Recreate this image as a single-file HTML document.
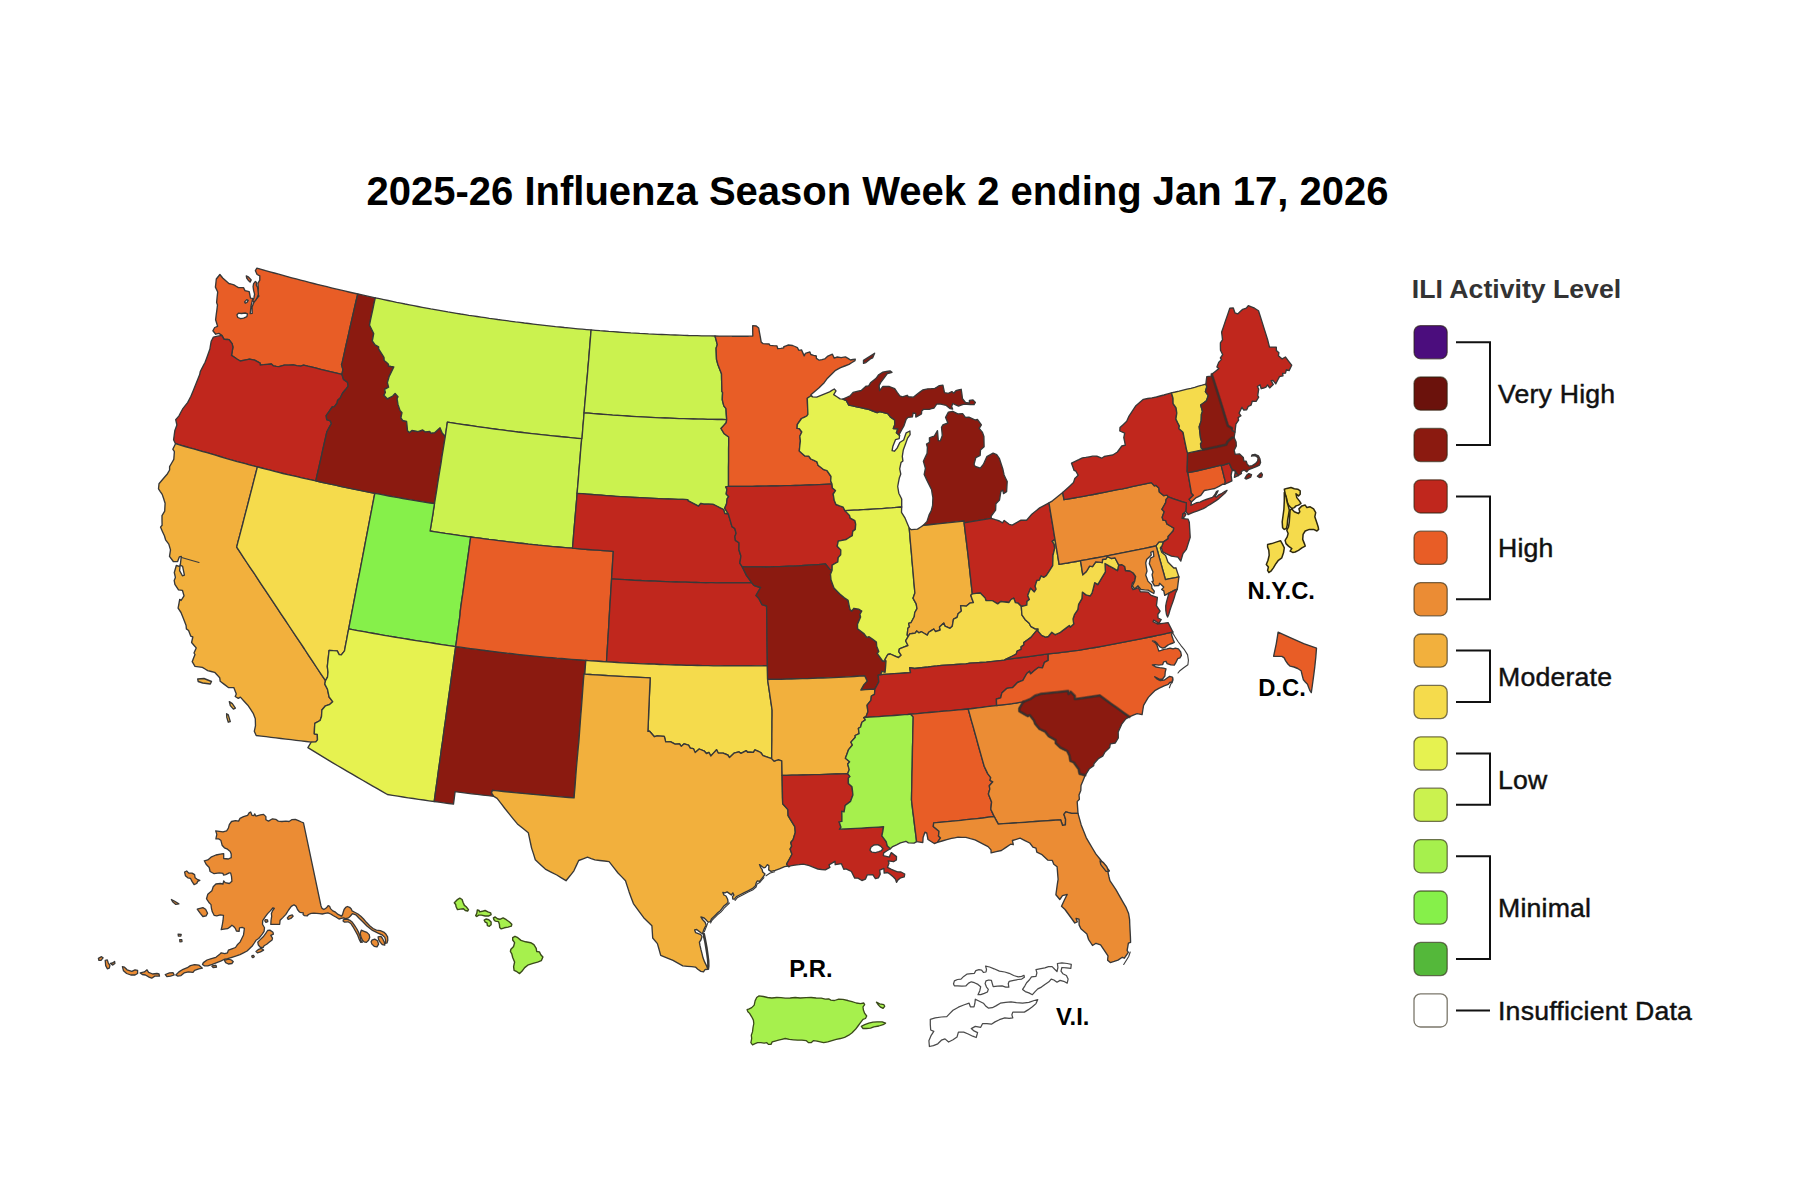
<!DOCTYPE html>
<html lang="en"><head><meta charset="utf-8"><title>ILI Activity Level Map</title>
<style>
html,body{margin:0;padding:0;background:#fff;}
body{width:1793px;height:1195px;position:relative;overflow:hidden;font-family:"Liberation Sans",Arial,sans-serif;}
#map{position:absolute;left:0;top:0;}
.s{stroke:#383838;stroke-width:1.35;stroke-linejoin:round;}
.s.vi{stroke:#4a4a4a;stroke-width:1.25;}
.soft{fill:none;stroke:#3a2a26;stroke-opacity:.5;stroke-width:3;stroke-linecap:round;stroke-linejoin:round;}
.s.nyc{stroke:#2f2a10;stroke-width:1.5;}
.s.hi{stroke:#3a4a1a;stroke-width:1.4;}
.s.pr{stroke:#3a4a1a;stroke-width:1.3;}
.s.ak{stroke:#383838;stroke-width:1.3;}
text{font-family:"Liberation Sans",Arial,sans-serif;}
.title{font-size:40px;font-weight:bold;fill:#000;}
.lt{font-size:26.67px;font-weight:bold;fill:#333;}
.ll{font-size:26.67px;fill:#111;stroke:#111;stroke-width:.45px;letter-spacing:.2px;}
.lab{font-size:23.8px;font-weight:bold;fill:#000;}
.sw{stroke:#2a2410;stroke-opacity:.62;stroke-width:1.3;}
.br{fill:none;stroke:#111;stroke-width:2;}
.dl{fill:none;stroke:#3b3b3b;stroke-width:1.1;stroke-linejoin:round;stroke-linecap:round;}
</style></head><body>
<svg id="map" width="1793" height="1195" viewBox="0 0 1793 1195">
<g id="states">
<path class="s st-WA" fill="#E85D26" d="M356.2 300.5L357.8 294.0L353.3 293.0L348.9 292.0L344.5 290.9L340.1 289.9L335.7 288.9L331.3 287.8L326.9 286.7L322.5 285.6L318.1 284.6L313.7 283.5L309.3 282.3L304.9 281.2L300.6 280.1L296.2 278.9L291.8 277.8L287.4 276.6L283.1 275.4L278.7 274.2L274.3 273.0L270.0 271.8L265.6 270.6L261.3 269.3L256.9 268.1L255.4 270.7L257.1 274.5L259.8 275.8L259.8 280.2L257.9 283.3L258.3 288.5L257.3 292.9L258.9 296.0L254.3 301.2L252.1 306.9L252.2 313.4L250.2 313.6L250.6 309.9L251.0 306.2L251.9 302.3L252.8 298.4L250.5 298.2L249.2 291.7L245.0 290.6L243.5 287.6L240.9 287.6L238.4 287.6L236.2 286.2L233.9 284.8L231.4 284.1L228.9 283.5L225.8 280.7L222.7 278.0L219.9 274.5L216.3 279.0L215.9 283.0L215.4 287.1L217.7 292.0L217.1 297.3L216.6 302.6L217.5 304.9L216.9 309.8L216.2 314.8L215.6 319.8L217.6 326.3L214.7 327.5L212.9 330.8L215.7 334.2L218.9 333.4L221.8 335.4L224.1 339.4L227.3 339.5L229.0 339.7L232.1 343.6L232.9 347.2L232.2 351.3L231.5 355.4L234.4 357.3L237.3 359.2L240.2 361.0L244.8 360.1L249.5 359.1L252.0 359.6L254.6 360.1L257.4 361.6L260.1 363.1L260.2 365.0L263.9 364.7L267.7 364.3L271.4 364.0L273.5 365.9L276.3 366.3L279.1 366.6L284.4 365.2L288.7 365.1L293.1 364.9L296.8 365.6L300.6 366.2L303.6 365.1L307.8 366.2L312.1 367.2L316.3 368.2L320.6 369.3L324.9 370.3L329.1 371.3L333.4 372.3L337.7 373.3L341.9 374.3L342.9 369.6L341.5 364.4L342.3 362.2L343.6 356.3L344.9 350.4L346.2 344.4L347.6 338.5L348.9 332.6L350.2 326.7L351.7 320.1L353.2 313.6L354.7 307.0Z"/>
<path class="s st-OR" fill="#C0271D" d="M341.9 374.3L337.7 373.3L333.4 372.3L329.1 371.3L324.9 370.3L320.6 369.3L316.3 368.2L312.1 367.2L307.8 366.2L303.6 365.1L300.6 366.2L296.8 365.6L293.1 364.9L288.7 365.1L284.4 365.2L279.1 366.6L276.3 366.3L273.5 365.9L271.4 364.0L267.7 364.3L263.9 364.7L260.2 365.0L260.1 363.1L257.4 361.6L254.6 360.1L252.0 359.6L249.5 359.1L244.8 360.1L240.2 361.0L237.3 359.2L234.4 357.3L231.5 355.4L232.2 351.3L232.9 347.2L232.1 343.6L229.0 339.7L227.3 339.5L224.1 339.4L221.8 335.4L217.6 336.2L213.4 337.1L211.2 341.3L210.5 345.1L209.9 349.0L208.3 353.4L206.7 357.9L205.1 362.3L202.7 366.9L200.3 371.5L199.7 374.6L197.5 380.1L195.3 385.5L193.1 390.9L190.9 396.3L189.2 399.5L187.6 402.6L185.0 405.9L182.5 409.2L180.7 412.5L179.0 415.9L175.7 419.6L176.9 425.0L174.8 430.8L174.2 435.3L173.6 439.8L175.5 443.7L180.2 445.1L185.0 446.5L189.7 447.9L194.5 449.2L198.6 450.4L202.8 451.6L206.9 452.7L211.1 453.9L215.4 455.2L219.8 456.5L224.1 457.8L228.4 459.1L232.8 460.3L237.1 461.6L241.2 462.7L245.2 463.7L249.3 464.8L253.3 465.9L257.4 466.9L261.6 468.0L265.8 469.1L270.1 470.2L274.4 471.3L278.6 472.4L282.9 473.5L287.6 474.6L292.3 475.7L297.0 476.7L301.7 477.8L306.4 478.8L311.1 479.9L315.8 480.9L317.2 474.7L318.6 468.6L320.0 462.4L321.4 456.3L322.7 450.1L324.1 444.0L325.5 437.9L326.9 431.7L329.1 427.6L331.4 423.5L330.3 420.9L326.7 419.6L326.2 415.7L329.2 411.3L332.2 407.0L334.4 406.6L337.2 403.0L337.5 400.5L340.4 397.7L342.5 393.3L345.4 389.8L348.2 386.2L347.5 382.3L343.5 379.4Z"/>
<path class="s st-CA" fill="#F2B03D" d="M257.4 466.9L253.3 465.9L249.3 464.8L245.2 463.7L241.2 462.7L237.1 461.6L232.8 460.3L228.4 459.1L224.1 457.8L219.8 456.5L215.4 455.2L211.1 453.9L206.9 452.7L202.8 451.6L198.6 450.4L194.5 449.2L189.7 447.9L185.0 446.5L180.2 445.1L175.5 443.7L172.8 449.2L174.4 451.6L174.1 455.4L173.8 459.3L171.7 463.0L169.6 466.7L169.6 470.0L167.5 473.7L163.2 478.7L159.0 483.7L158.5 488.8L160.3 491.6L162.2 494.4L163.7 498.8L165.1 503.2L164.9 507.1L164.7 511.1L162.0 515.7L162.0 520.5L162.1 525.3L160.5 527.1L162.4 531.4L164.4 535.7L165.6 539.8L168.8 544.1L170.5 549.9L169.5 556.4L173.3 561.5L177.6 561.6L179.3 556.9L181.3 556.4L180.7 561.5L180.1 566.6L176.3 565.5L175.3 569.0L174.3 572.5L175.4 577.4L174.2 580.5L174.9 584.3L178.5 589.9L182.4 590.3L184.0 595.8L181.1 600.5L179.7 599.4L178.9 603.8L178.1 608.2L181.0 612.5L183.6 619.1L186.1 625.6L186.4 628.9L188.6 630.5L190.8 636.2L192.8 637.0L191.6 642.5L193.9 645.2L196.2 647.9L194.0 653.0L195.0 654.5L193.6 658.1L192.2 661.7L195.0 666.3L198.7 666.8L202.4 667.4L205.1 669.0L207.7 670.6L211.2 671.5L214.6 672.3L217.2 675.0L219.7 677.7L220.2 681.3L224.3 684.4L228.4 687.5L233.8 687.6L236.3 694.0L235.2 696.5L238.3 698.3L240.4 697.1L244.1 701.2L247.8 705.2L250.5 709.2L253.2 713.3L255.3 718.7L255.5 725.7L254.3 731.3L256.2 735.5L261.2 736.1L266.1 736.7L271.1 737.3L276.0 737.9L280.9 738.5L286.0 739.1L291.0 739.7L296.1 740.3L301.1 740.9L306.2 741.5L311.2 742.1L315.8 741.9L317.5 739.8L317.3 734.5L314.3 733.8L314.5 728.6L314.8 723.4L320.1 720.5L321.5 716.6L321.9 710.0L325.5 705.8L329.3 704.7L332.7 701.7L329.1 697.0L328.3 693.1L327.5 689.3L324.8 684.1L325.5 680.7L321.2 674.4L317.0 668.0L312.8 661.7L308.6 655.4L304.5 649.0L300.6 643.2L296.7 637.3L292.8 631.5L288.8 625.5L284.8 619.5L280.8 613.6L276.9 607.6L272.9 601.6L268.9 595.7L264.9 589.7L261.0 583.8L257.1 577.8L253.7 572.7L250.2 567.6L246.8 562.5L243.4 557.3L240.0 552.2L236.7 547.1L238.1 541.4L239.6 535.8L241.1 530.1L242.6 524.5L244.0 518.9L245.5 513.2L247.2 506.6L248.9 500.0L250.6 493.4L252.3 486.8L254.0 480.1L255.7 473.5Z"/>
<path class="s st-NV" fill="#F5DB4C" d="M315.8 480.9L311.1 479.9L306.4 478.8L301.7 477.8L297.0 476.7L292.3 475.7L287.6 474.6L282.9 473.5L278.6 472.4L274.4 471.3L270.1 470.2L265.8 469.1L261.6 468.0L257.4 466.9L255.7 473.5L254.0 480.1L252.3 486.8L250.6 493.4L248.9 500.0L247.2 506.6L245.5 513.2L244.0 518.9L242.6 524.5L241.1 530.1L239.6 535.8L238.1 541.4L236.7 547.1L240.0 552.2L243.4 557.3L246.8 562.5L250.2 567.6L253.7 572.7L257.1 577.8L261.0 583.8L264.9 589.7L268.9 595.7L272.9 601.6L276.9 607.6L280.8 613.6L284.8 619.5L288.8 625.5L292.8 631.5L296.7 637.3L300.6 643.2L304.5 649.0L308.6 655.4L312.8 661.7L317.0 668.0L321.2 674.4L325.5 680.7L327.5 677.2L328.0 672.1L327.3 666.5L327.9 661.2L328.5 655.8L329.1 650.4L333.2 650.7L337.2 650.9L339.2 654.7L341.3 654.9L344.5 650.8L345.5 645.3L346.6 639.8L347.6 634.4L348.7 628.9L350.0 622.1L351.3 615.3L352.6 608.6L353.9 601.8L355.2 595.0L356.5 588.2L357.8 581.4L359.2 574.6L360.5 567.9L361.8 561.1L363.1 554.3L364.4 547.5L365.7 540.7L367.0 534.0L368.3 527.2L369.6 520.4L370.9 513.6L372.2 506.9L373.5 500.1L374.8 493.3L369.9 492.4L365.0 491.4L360.1 490.4L355.1 489.4L350.2 488.4L345.3 487.3L340.4 486.3L335.5 485.2L330.5 484.2L325.6 483.1L320.7 482.0Z"/>
<path class="s st-ID" fill="#8B1A10" d="M357.8 294.0L356.2 300.5L354.7 307.0L353.2 313.6L351.7 320.1L350.2 326.7L348.9 332.6L347.6 338.5L346.2 344.4L344.9 350.4L343.6 356.3L342.3 362.2L341.5 364.4L342.9 369.6L341.9 374.3L343.5 379.4L347.5 382.3L348.2 386.2L345.4 389.8L342.5 393.3L340.4 397.7L337.5 400.5L337.2 403.0L334.4 406.6L332.2 407.0L329.2 411.3L326.2 415.7L326.7 419.6L330.3 420.9L331.4 423.5L329.1 427.6L326.9 431.7L325.5 437.9L324.1 444.0L322.7 450.1L321.4 456.3L320.0 462.4L318.6 468.6L317.2 474.7L315.8 480.9L320.7 482.0L325.6 483.1L330.5 484.2L335.5 485.2L340.4 486.3L345.3 487.3L350.2 488.4L355.1 489.4L360.1 490.4L365.0 491.4L369.9 492.4L374.8 493.3L379.5 494.2L384.2 495.1L388.8 496.0L393.5 496.8L398.2 497.7L402.9 498.5L407.5 499.3L412.2 500.1L416.7 500.9L421.1 501.6L425.6 502.3L430.0 503.0L434.5 503.7L435.6 496.9L436.7 490.2L437.7 483.5L438.8 476.7L439.9 470.0L441.0 463.3L442.0 456.5L443.1 449.8L444.2 443.1L445.3 436.4L442.2 433.0L440.0 427.8L434.6 432.7L430.6 433.1L429.9 431.4L425.1 431.8L422.7 430.0L417.9 431.6L414.9 431.0L411.9 430.4L409.5 432.6L407.5 430.7L407.1 426.1L406.6 421.5L402.7 420.5L400.9 417.9L402.0 412.7L400.0 410.4L398.0 404.4L397.1 398.8L398.0 396.7L395.1 393.4L392.7 396.0L387.3 398.8L383.9 395.2L385.4 392.4L384.6 389.4L388.6 387.1L387.4 382.6L389.2 376.4L391.5 371.7L393.8 366.9L391.1 366.5L388.4 366.0L388.5 364.2L386.4 362.3L384.2 360.5L384.0 357.4L381.3 353.1L378.6 348.8L378.6 346.8L375.1 344.9L372.3 340.9L373.0 337.3L373.7 333.6L371.6 329.3L369.5 325.0L370.6 319.5L371.8 314.1L373.0 308.7L374.1 303.2L375.3 297.8L370.9 296.9L366.5 295.9L362.1 294.9Z"/>
<path class="s st-MT" fill="#CBF24F" d="M375.3 297.8L374.1 303.2L373.0 308.7L371.8 314.1L370.6 319.5L369.5 325.0L371.6 329.3L373.7 333.6L373.0 337.3L372.3 340.9L375.1 344.9L378.6 346.8L378.6 348.8L381.3 353.1L384.0 357.4L384.2 360.5L386.4 362.3L388.5 364.2L388.4 366.0L391.1 366.5L393.8 366.9L391.5 371.7L389.2 376.4L387.4 382.6L388.6 387.1L384.6 389.4L385.4 392.4L383.9 395.2L387.3 398.8L392.7 396.0L395.1 393.4L398.0 396.7L397.1 398.8L398.0 404.4L400.0 410.4L402.0 412.7L400.9 417.9L402.7 420.5L406.6 421.5L407.1 426.1L407.5 430.7L409.5 432.6L411.9 430.4L414.9 431.0L417.9 431.6L422.7 430.0L425.1 431.8L429.9 431.4L430.6 433.1L434.6 432.7L440.0 427.8L442.2 433.0L445.3 436.4L446.0 431.6L446.7 426.9L447.4 422.1L452.1 422.9L456.8 423.6L461.6 424.3L466.3 425.0L471.0 425.7L475.7 426.4L480.4 427.1L485.1 427.7L489.8 428.4L494.5 429.0L499.2 429.6L503.8 430.2L508.5 430.8L513.2 431.4L517.8 432.0L522.5 432.5L527.2 433.1L531.9 433.6L536.6 434.1L541.2 434.6L545.9 435.1L550.4 435.6L554.9 436.1L559.3 436.5L563.8 437.0L568.3 437.4L572.7 437.8L577.2 438.3L581.7 438.7L582.0 438.7L582.5 432.2L583.0 425.7L583.6 419.3L584.1 412.8L584.6 406.3L585.2 399.8L585.8 393.3L586.3 386.7L586.9 380.2L587.5 373.7L588.0 367.2L588.6 360.7L589.1 354.6L589.6 348.4L590.1 342.2L590.6 336.1L591.1 329.9L586.7 329.6L582.2 329.2L577.8 328.8L573.3 328.3L568.8 327.9L564.4 327.5L560.0 327.0L555.5 326.6L551.1 326.1L546.6 325.6L542.2 325.1L537.7 324.6L533.3 324.1L528.8 323.5L524.4 323.0L520.0 322.4L515.5 321.9L511.1 321.3L506.7 320.7L502.2 320.1L497.8 319.5L493.4 318.8L489.3 318.3L485.2 317.7L481.1 317.1L477.0 316.5L472.9 315.9L468.8 315.3L464.7 314.6L460.6 314.0L456.5 313.3L452.2 312.6L447.9 311.9L443.6 311.1L439.4 310.4L435.1 309.6L430.8 308.9L426.5 308.1L422.2 307.3L417.9 306.5L413.7 305.7L409.4 304.8L405.1 304.0L400.9 303.1L396.6 302.3L392.3 301.4L388.1 300.5L383.8 299.6L379.5 298.7Z"/>
<path class="s st-WY" fill="#CBF24F" d="M445.3 436.4L444.2 443.1L443.1 449.8L442.0 456.5L441.0 463.3L439.9 470.0L438.8 476.7L437.7 483.5L436.7 490.2L435.6 496.9L434.5 503.7L433.6 509.1L432.8 514.6L431.9 520.1L431.0 525.5L430.1 531.0L435.2 531.8L440.3 532.6L445.3 533.4L450.4 534.1L455.5 534.9L460.5 535.6L465.6 536.3L470.7 537.0L475.3 537.6L479.9 538.2L484.5 538.8L489.0 539.4L493.6 539.9L498.6 540.6L503.5 541.2L508.5 541.8L513.5 542.4L518.4 543.0L523.4 543.5L528.3 544.1L533.3 544.6L538.2 545.2L543.1 545.6L548.0 546.1L552.9 546.6L557.8 547.0L562.7 547.4L567.6 547.8L572.5 548.2L573.1 541.4L573.6 534.5L574.2 527.6L574.8 520.7L575.4 513.9L576.0 507.0L576.6 500.1L577.1 493.3L577.7 486.4L578.3 479.6L578.8 472.8L579.4 465.9L580.0 459.1L580.5 452.3L581.1 445.5L581.7 438.7L577.2 438.3L572.7 437.8L568.3 437.4L563.8 437.0L559.3 436.5L554.9 436.1L550.4 435.6L545.9 435.1L541.2 434.6L536.6 434.1L531.9 433.6L527.2 433.1L522.5 432.5L517.8 432.0L513.2 431.4L508.5 430.8L503.8 430.2L499.2 429.6L494.5 429.0L489.8 428.4L485.1 427.7L480.4 427.1L475.7 426.4L471.0 425.7L466.3 425.0L461.6 424.3L456.8 423.6L452.1 422.9L447.4 422.1L446.7 426.9L446.0 431.6Z"/>
<path class="s st-UT" fill="#86F04A" d="M374.8 493.3L373.5 500.1L372.2 506.9L370.9 513.6L369.6 520.4L368.3 527.2L367.0 534.0L365.7 540.7L364.4 547.5L363.1 554.3L361.8 561.1L360.5 567.9L359.2 574.6L357.8 581.4L356.5 588.2L355.2 595.0L353.9 601.8L352.6 608.6L351.3 615.3L350.0 622.1L348.7 628.9L353.7 629.9L358.8 630.8L363.8 631.7L368.8 632.6L373.9 633.5L378.9 634.4L384.0 635.3L389.0 636.2L394.1 637.0L399.2 637.9L404.2 638.7L409.3 639.5L414.3 640.3L419.4 641.1L424.5 641.9L429.7 642.7L434.9 643.5L440.1 644.3L445.3 645.1L450.5 645.8L455.7 646.6L456.6 640.2L457.4 633.8L458.3 627.4L459.2 621.0L460.1 614.6L460.2 611.6L461.0 605.7L461.8 599.9L462.7 594.1L463.5 588.3L464.4 581.9L465.3 575.5L466.2 569.1L467.1 562.7L468.0 556.3L468.9 549.9L469.8 543.4L470.7 537.0L465.6 536.3L460.5 535.6L455.5 534.9L450.4 534.1L445.3 533.4L440.3 532.6L435.2 531.8L430.1 531.0L431.0 525.5L431.9 520.1L432.8 514.6L433.6 509.1L434.5 503.7L430.0 503.0L425.6 502.3L421.1 501.6L416.7 500.9L412.2 500.1L407.5 499.3L402.9 498.5L398.2 497.7L393.5 496.8L388.8 496.0L384.2 495.1L379.5 494.2Z"/>
<path class="s st-AZ" fill="#E6F250" d="M325.5 680.7L324.8 684.1L327.5 689.3L328.3 693.1L329.1 697.0L332.7 701.7L329.3 704.7L325.5 705.8L321.9 710.0L321.5 716.6L320.1 720.5L314.8 723.4L314.5 728.6L314.3 733.8L317.3 734.5L317.5 739.8L315.8 741.9L311.2 742.1L307.9 747.7L312.8 750.7L317.7 753.7L322.6 756.7L327.5 759.6L332.4 762.6L337.3 765.5L342.3 768.4L347.3 771.3L352.2 774.2L357.2 777.1L362.2 780.0L367.2 782.9L372.3 785.8L377.3 788.7L382.4 791.6L387.4 794.5L392.6 795.4L397.8 796.2L403.0 797.0L408.2 797.8L413.4 798.5L418.6 799.3L423.8 800.0L429.0 800.8L434.2 801.5L435.1 794.8L436.0 788.1L437.0 781.4L437.9 774.6L438.8 767.9L439.8 761.2L440.7 754.5L441.6 747.7L442.6 741.0L443.5 734.3L444.4 727.5L445.4 720.8L446.3 714.0L447.2 707.3L448.2 700.6L449.1 693.8L450.1 687.1L451.0 680.3L451.9 673.6L452.9 666.8L453.8 660.1L454.7 653.3L455.7 646.6L450.5 645.8L445.3 645.1L440.1 644.3L434.9 643.5L429.7 642.7L424.5 641.9L419.4 641.1L414.3 640.3L409.3 639.5L404.2 638.7L399.2 637.9L394.1 637.0L389.0 636.2L384.0 635.3L378.9 634.4L373.9 633.5L368.8 632.6L363.8 631.7L358.8 630.8L353.7 629.9L348.7 628.9L347.6 634.4L346.6 639.8L345.5 645.3L344.5 650.8L341.3 654.9L339.2 654.7L337.2 650.9L333.2 650.7L329.1 650.4L328.5 655.8L327.9 661.2L327.3 666.5L328.0 672.1L327.5 677.2Z"/>
<path class="s st-NM" fill="#8B1A10" d="M455.7 646.6L454.7 653.3L453.8 660.1L452.9 666.8L451.9 673.6L451.0 680.3L450.1 687.1L449.1 693.8L448.2 700.6L447.2 707.3L446.3 714.0L445.4 720.8L444.4 727.5L443.5 734.3L442.6 741.0L441.6 747.7L440.7 754.5L439.8 761.2L438.8 767.9L437.9 774.6L437.0 781.4L436.0 788.1L435.1 794.8L434.2 801.5L439.0 802.2L443.8 802.8L448.7 803.5L453.5 804.1L454.3 797.9L455.1 791.7L460.6 792.4L466.2 793.1L471.7 793.8L477.2 794.4L482.7 795.1L488.3 795.7L493.8 796.3L491.5 792.9L492.5 790.3L497.9 790.9L503.3 791.5L508.8 792.0L514.2 792.6L519.6 793.2L525.1 793.7L530.5 794.2L536.0 794.7L541.4 795.2L546.9 795.7L552.3 796.2L557.8 796.6L563.2 797.1L568.7 797.5L574.1 797.9L574.5 792.4L575.0 786.9L575.4 781.4L575.8 775.9L576.2 770.4L576.7 764.8L577.2 759.2L577.7 753.7L578.2 748.1L578.8 742.5L579.3 735.7L579.8 728.8L580.3 722.0L580.8 715.1L581.4 708.3L581.9 701.4L582.4 694.6L582.9 687.7L583.4 680.9L584.0 674.0L584.8 674.1L585.3 667.2L585.8 660.3L581.0 660.0L576.2 659.7L571.4 659.3L566.6 658.9L561.8 658.5L556.9 658.2L552.0 657.7L547.0 657.3L542.1 656.8L537.1 656.3L532.1 655.8L527.2 655.3L522.2 654.8L517.3 654.3L512.3 653.7L507.3 653.2L502.4 652.6L498.4 652.1L494.5 651.6L490.5 651.1L485.5 650.5L480.6 649.8L475.6 649.2L470.6 648.6L465.6 647.9L460.6 647.2Z"/>
<path class="s st-CO" fill="#E85D26" d="M572.5 548.2L567.6 547.8L562.7 547.4L557.8 547.0L552.9 546.6L548.0 546.1L543.1 545.6L538.2 545.2L533.3 544.6L528.3 544.1L523.4 543.5L518.4 543.0L513.5 542.4L508.5 541.8L503.5 541.2L498.6 540.6L493.6 539.9L489.0 539.4L484.5 538.8L479.9 538.2L475.3 537.6L470.7 537.0L469.8 543.4L468.9 549.9L468.0 556.3L467.1 562.7L466.2 569.1L465.3 575.5L464.4 581.9L463.5 588.3L462.7 594.1L461.8 599.9L461.0 605.7L460.2 611.6L460.1 614.6L459.2 621.0L458.3 627.4L457.4 633.8L456.6 640.2L455.7 646.6L460.6 647.2L465.6 647.9L470.6 648.6L475.6 649.2L480.6 649.8L485.5 650.5L490.5 651.1L494.5 651.6L498.4 652.1L502.4 652.6L507.3 653.2L512.3 653.7L517.3 654.3L522.2 654.8L527.2 655.3L532.1 655.8L537.1 656.3L542.1 656.8L547.0 657.3L552.0 657.7L556.9 658.2L561.8 658.5L566.6 658.9L571.4 659.3L576.2 659.7L581.0 660.0L585.8 660.3L591.0 660.8L596.2 661.2L601.3 661.5L606.5 661.9L606.9 655.5L607.3 649.1L607.7 642.8L608.1 636.4L608.5 630.0L608.9 623.6L609.2 617.2L609.6 610.8L610.0 604.4L610.4 598.1L610.8 591.7L611.2 585.3L611.6 578.9L611.9 573.4L612.3 567.9L612.6 562.3L613.0 556.8L613.3 551.3L608.2 550.9L603.1 550.6L598.0 550.2L592.9 549.9L587.8 549.5L582.7 549.1L577.6 548.7Z"/>
<path class="s st-ND" fill="#CBF24F" d="M591.1 329.9L590.6 336.1L590.1 342.2L589.6 348.4L589.1 354.6L588.6 360.7L588.0 367.2L587.5 373.7L586.9 380.2L586.3 386.7L585.8 393.3L585.2 399.8L584.6 406.3L584.1 412.8L588.8 413.2L593.6 413.6L598.3 414.0L603.1 414.4L607.8 414.7L612.5 415.1L617.3 415.4L622.0 415.7L626.8 416.0L631.5 416.3L636.3 416.6L641.0 416.9L645.8 417.1L650.6 417.4L655.3 417.6L660.1 417.8L664.8 418.0L669.6 418.2L674.3 418.4L679.1 418.6L683.8 418.7L688.6 418.9L693.4 419.0L698.1 419.1L702.9 419.2L707.6 419.3L712.4 419.4L717.2 419.5L721.9 419.5L726.7 419.6L726.3 414.1L726.0 408.6L723.8 405.8L722.3 399.8L722.4 396.1L722.6 392.5L721.9 391.3L721.8 385.4L721.6 379.6L721.5 373.8L719.7 369.2L717.9 364.5L716.5 359.3L716.3 353.8L716.1 348.3L717.3 344.6L716.2 340.3L715.0 336.0L710.6 335.9L706.2 335.9L701.7 335.8L697.3 335.7L692.9 335.6L688.4 335.5L684.0 335.3L679.6 335.2L675.1 335.0L670.7 334.9L666.3 334.7L661.9 334.5L657.4 334.3L653.0 334.1L648.6 333.9L644.2 333.6L639.7 333.4L635.3 333.1L630.9 332.9L626.5 332.6L622.0 332.3L617.6 332.0L613.2 331.7L608.8 331.4L604.4 331.0L599.9 330.7L595.5 330.3Z"/>
<path class="s st-SD" fill="#CBF24F" d="M584.1 412.8L583.6 419.3L583.0 425.7L582.5 432.2L582.0 438.7L581.7 438.7L581.1 445.5L580.5 452.3L580.0 459.1L579.4 465.9L578.8 472.8L578.3 479.6L577.7 486.4L577.1 493.3L582.0 493.7L586.8 494.1L591.6 494.5L596.4 494.8L601.2 495.2L606.1 495.6L610.9 495.9L615.7 496.3L620.5 496.6L625.3 496.9L630.1 497.2L634.9 497.5L639.7 497.7L644.5 497.9L649.3 498.2L654.1 498.4L658.8 498.6L663.6 498.8L668.4 499.0L673.2 499.1L678.0 499.3L682.8 499.4L687.6 499.6L688.2 500.9L691.6 502.7L695.0 504.4L698.4 506.2L700.8 503.5L703.7 504.2L708.4 504.2L713.1 504.3L716.5 506.0L720.0 507.8L723.5 509.5L724.8 513.5L728.4 514.2L724.7 508.2L726.5 504.1L727.2 498.7L728.7 496.7L726.2 494.0L726.9 489.2L725.8 486.9L728.5 486.3L728.5 480.2L728.5 474.0L728.5 467.8L728.6 461.6L728.6 455.5L728.6 449.3L728.7 443.1L728.7 437.0L724.3 433.8L721.0 428.5L723.6 425.6L726.2 422.7L726.7 419.6L721.9 419.5L717.2 419.5L712.4 419.4L707.6 419.3L702.9 419.2L698.1 419.1L693.4 419.0L688.6 418.9L683.8 418.7L679.1 418.6L674.3 418.4L669.6 418.2L664.8 418.0L660.1 417.8L655.3 417.6L650.6 417.4L645.8 417.1L641.0 416.9L636.3 416.6L631.5 416.3L626.8 416.0L622.0 415.7L617.3 415.4L612.5 415.1L607.8 414.7L603.1 414.4L598.3 414.0L593.6 413.6L588.8 413.2Z"/>
<path class="s st-NE" fill="#C0271D" d="M577.1 493.3L576.6 500.1L576.0 507.0L575.4 513.9L574.8 520.7L574.2 527.6L573.6 534.5L573.1 541.4L572.5 548.2L577.6 548.7L582.7 549.1L587.8 549.5L592.9 549.9L598.0 550.2L603.1 550.6L608.2 550.9L613.3 551.3L613.0 556.8L612.6 562.3L612.3 567.9L611.9 573.4L611.6 578.9L614.6 579.1L619.7 579.4L624.8 579.7L629.9 580.0L634.9 580.3L640.0 580.5L645.1 580.8L650.2 581.0L655.3 581.2L660.3 581.4L665.4 581.6L670.5 581.8L675.6 582.0L680.6 582.1L685.7 582.2L690.8 582.4L695.9 582.5L701.0 582.6L706.1 582.7L711.1 582.7L716.2 582.8L721.3 582.9L726.4 582.9L731.5 582.9L736.5 582.9L741.6 582.9L746.7 582.9L751.8 582.9L749.2 579.2L746.6 575.6L744.4 571.2L742.2 566.7L739.8 563.1L740.4 559.5L740.9 556.0L738.9 549.8L739.0 546.3L739.0 542.8L735.4 540.4L734.9 536.6L736.1 533.3L734.8 528.5L732.0 526.6L730.2 520.4L728.4 514.2L724.8 513.5L723.5 509.5L720.0 507.8L716.5 506.0L713.1 504.3L708.4 504.2L703.7 504.2L700.8 503.5L698.4 506.2L695.0 504.4L691.6 502.7L688.2 500.9L687.6 499.6L682.8 499.4L678.0 499.3L673.2 499.1L668.4 499.0L663.6 498.8L658.8 498.6L654.1 498.4L649.3 498.2L644.5 497.9L639.7 497.7L634.9 497.5L630.1 497.2L625.3 496.9L620.5 496.6L615.7 496.3L610.9 495.9L606.1 495.6L601.2 495.2L596.4 494.8L591.6 494.5L586.8 494.1L582.0 493.7Z"/>
<path class="s st-KS" fill="#C0271D" d="M611.6 578.9L611.2 585.3L610.8 591.7L610.4 598.1L610.0 604.4L609.6 610.8L609.2 617.2L608.9 623.6L608.5 630.0L608.1 636.4L607.7 642.8L607.3 649.1L606.9 655.5L606.5 661.9L611.8 662.2L617.1 662.5L622.4 662.8L627.7 663.1L633.0 663.3L638.3 663.6L643.5 663.8L648.8 664.0L654.2 664.2L659.6 664.5L665.0 664.7L670.4 664.8L675.8 665.0L681.1 665.2L686.5 665.3L691.9 665.4L697.3 665.5L702.7 665.6L708.1 665.7L713.5 665.8L718.9 665.8L724.2 665.9L729.6 665.9L735.0 665.9L740.4 665.9L745.8 665.9L751.2 665.9L756.6 665.8L762.0 665.8L767.4 665.7L767.3 659.1L767.2 652.4L767.1 645.8L767.0 639.2L766.9 632.5L766.9 625.9L766.8 619.3L766.7 612.7L766.6 606.0L762.1 604.7L758.7 598.2L756.0 595.5L758.3 591.5L760.6 587.5L757.2 586.5L753.9 585.4L751.8 582.9L746.7 582.9L741.6 582.9L736.5 582.9L731.5 582.9L726.4 582.9L721.3 582.9L716.2 582.8L711.1 582.7L706.1 582.7L701.0 582.6L695.9 582.5L690.8 582.4L685.7 582.2L680.6 582.1L675.6 582.0L670.5 581.8L665.4 581.6L660.3 581.4L655.3 581.2L650.2 581.0L645.1 580.8L640.0 580.5L634.9 580.3L629.9 580.0L624.8 579.7L619.7 579.4L614.6 579.1Z"/>
<path class="s st-OK" fill="#F5DB4C" d="M585.8 660.3L585.3 667.2L584.8 674.1L590.0 674.5L595.1 674.8L600.3 675.2L605.5 675.5L610.7 675.8L615.6 676.1L620.5 676.4L625.5 676.7L630.4 676.9L635.3 677.2L640.3 677.4L645.2 677.7L650.2 677.9L649.9 684.6L649.6 691.3L649.3 698.0L649.0 704.6L648.7 711.3L648.5 718.0L648.2 724.7L647.9 731.4L649.6 731.2L654.4 736.7L657.2 735.9L660.7 736.1L664.3 736.4L665.7 741.8L670.3 741.6L675.1 744.2L679.6 744.0L681.3 746.3L684.2 743.8L688.5 745.1L690.3 748.2L693.5 748.7L695.2 752.5L699.2 749.0L704.5 751.2L706.4 753.5L709.0 752.5L710.8 756.0L713.7 752.9L716.6 749.8L718.2 753.0L723.1 753.1L727.8 755.0L729.5 757.5L734.0 753.2L738.8 751.9L741.0 753.4L746.3 750.7L747.6 752.2L750.5 752.2L753.4 752.3L754.9 749.9L757.8 751.2L760.7 752.5L763.0 755.7L767.3 757.1L771.7 758.6L771.7 752.5L771.8 746.4L771.9 740.4L771.9 734.3L772.0 728.2L772.0 722.2L772.1 716.1L772.1 710.0L771.2 703.9L770.3 697.8L769.4 691.7L768.5 685.6L767.6 679.5L767.5 672.6L767.4 665.7L762.0 665.8L756.6 665.8L751.2 665.9L745.8 665.9L740.4 665.9L735.0 665.9L729.6 665.9L724.2 665.9L718.9 665.8L713.5 665.8L708.1 665.7L702.7 665.6L697.3 665.5L691.9 665.4L686.5 665.3L681.1 665.2L675.8 665.0L670.4 664.8L665.0 664.7L659.6 664.5L654.2 664.2L648.8 664.0L643.5 663.8L638.3 663.6L633.0 663.3L627.7 663.1L622.4 662.8L617.1 662.5L611.8 662.2L606.5 661.9L601.3 661.5L596.2 661.2L591.0 660.8Z"/>
<path class="s st-TX" fill="#F2B03D" d="M584.0 674.0L583.4 680.9L582.9 687.7L582.4 694.6L581.9 701.4L581.4 708.3L580.8 715.1L580.3 722.0L579.8 728.8L579.3 735.7L578.8 742.5L578.2 748.1L577.7 753.7L577.2 759.2L576.7 764.8L576.2 770.4L575.8 775.9L575.4 781.4L575.0 786.9L574.5 792.4L574.1 797.9L568.7 797.5L563.2 797.1L557.8 796.6L552.3 796.2L546.9 795.7L541.4 795.2L536.0 794.7L530.5 794.2L525.1 793.7L519.6 793.2L514.2 792.6L508.8 792.0L503.3 791.5L497.9 790.9L492.5 790.3L491.5 792.9L493.8 796.3L497.1 798.3L501.0 803.4L504.9 808.5L509.0 813.6L513.2 818.8L517.4 823.9L522.8 828.3L528.3 832.7L529.4 837.8L530.5 843.0L531.6 848.1L533.5 853.9L535.3 859.7L540.3 864.4L545.3 869.1L551.0 872.1L556.8 875.0L561.4 877.9L566.0 880.7L570.0 875.8L573.9 870.8L576.3 865.6L578.7 860.5L583.1 858.8L587.5 857.2L591.2 858.6L594.9 859.9L599.7 860.5L604.4 861.0L609.1 861.6L613.6 867.3L618.0 873.0L621.8 876.9L625.5 880.8L627.3 886.4L629.1 891.9L631.2 897.8L633.4 903.6L638.5 910.7L643.7 917.7L647.8 921.7L651.9 925.7L652.3 931.8L652.7 938.0L657.4 943.6L659.1 949.5L660.7 955.4L666.8 957.9L673.0 960.4L677.9 963.1L682.8 965.8L687.3 966.3L691.8 966.7L695.2 967.1L695.7 967.2L697.8 969.3L700.9 971.4L703.5 971.9L705.1 969.5L708.0 969.3L707.4 968.0L706.2 965.1L704.6 961.9L703.0 957.8L702.0 953.6L700.9 949.4L699.9 945.2L699.4 942.1L700.9 940.0L702.0 936.8L700.9 934.7L698.3 933.7L695.7 932.7L694.6 930.0L696.7 929.5L698.8 931.1L700.9 932.7L702.5 933.7L703.5 930.6L704.6 927.9L706.2 925.3L705.1 922.2L702.5 919.6L700.9 917.0L704.1 918.0L706.7 920.6L708.2 922.2L710.3 921.7L711.4 919.1L713.5 917.0L715.6 914.9L717.7 912.8L720.3 910.7L721.9 908.6L723.9 906.0L726.0 904.4L728.1 902.3L727.6 899.2L726.0 896.0L723.9 895.0L722.9 892.4L725.0 892.9L727.1 891.9L729.2 893.4L731.3 895.0L732.8 892.9L733.9 895.0L732.5 896.6L732.8 899.0L734.4 899.2L736.5 896.6L739.6 895.0L743.8 892.9L748.0 890.8L752.2 888.7L755.3 886.1L756.4 882.4L757.4 880.9L759.5 881.4L761.6 878.8L763.7 876.2L765.0 873.9L762.7 872.0L762.1 869.4L760.6 867.3L759.5 864.6L761.1 865.7L763.7 867.8L765.3 867.3L767.4 864.6L768.9 865.7L768.7 869.9L771.0 871.4L775.2 870.4L779.4 868.8L784.6 866.7L788.1 866.0L786.6 864.2L789.3 859.3L792.0 854.3L790.1 849.1L791.7 846.2L790.8 842.5L793.1 839.6L794.2 836.0L795.3 832.4L794.8 826.6L791.4 821.1L788.1 815.6L787.9 809.6L782.7 803.7L782.5 798.0L782.4 792.4L782.3 786.7L782.2 781.1L782.1 775.4L782.0 770.6L781.9 765.7L781.8 760.8L778.5 759.7L774.1 761.1L771.7 758.6L767.3 757.1L763.0 755.7L760.7 752.5L757.8 751.2L754.9 749.9L753.4 752.3L750.5 752.2L747.6 752.2L746.3 750.7L741.0 753.4L738.8 751.9L734.0 753.2L729.5 757.5L727.8 755.0L723.1 753.1L718.2 753.0L716.6 749.8L713.7 752.9L710.8 756.0L709.0 752.5L706.4 753.5L704.5 751.2L699.2 749.0L695.2 752.5L693.5 748.7L690.3 748.2L688.5 745.1L684.2 743.8L681.3 746.3L679.6 744.0L675.1 744.2L670.3 741.6L665.7 741.8L664.3 736.4L660.7 736.1L657.2 735.9L654.4 736.7L649.6 731.2L647.9 731.4L648.2 724.7L648.5 718.0L648.7 711.3L649.0 704.6L649.3 698.0L649.6 691.3L649.9 684.6L650.2 677.9L645.2 677.7L640.3 677.4L635.3 677.2L630.4 676.9L625.5 676.7L620.5 676.4L615.6 676.1L610.7 675.8L605.5 675.5L600.3 675.2L595.1 674.8L590.0 674.5L584.8 674.1Z"/>
<path class="s st-MN" fill="#E85D26" d="M715.0 336.0L716.2 340.3L717.3 344.6L716.1 348.3L716.3 353.8L716.5 359.3L717.9 364.5L719.7 369.2L721.5 373.8L721.6 379.6L721.8 385.4L721.9 391.3L722.6 392.5L722.4 396.1L722.3 399.8L723.8 405.8L726.0 408.6L726.3 414.1L726.7 419.6L726.2 422.7L723.6 425.6L721.0 428.5L724.3 433.8L728.7 437.0L728.7 443.1L728.6 449.3L728.6 455.5L728.6 461.6L728.5 467.8L728.5 474.0L728.5 480.2L728.5 486.3L733.2 486.3L738.0 486.4L742.8 486.3L747.6 486.3L752.4 486.3L757.2 486.2L762.0 486.2L766.7 486.1L771.5 486.0L776.3 486.0L781.1 485.8L785.9 485.7L790.7 485.6L795.5 485.5L800.2 485.3L805.0 485.1L809.8 485.0L814.6 484.8L819.4 484.6L824.2 484.3L828.9 484.1L832.0 484.0L830.7 480.9L831.0 476.5L827.0 470.6L823.8 469.7L820.9 467.5L818.0 465.3L816.9 461.8L813.9 460.4L810.8 459.0L808.7 456.1L804.6 455.8L802.0 453.4L799.3 451.0L799.8 445.9L800.4 440.9L799.8 436.2L801.8 432.0L799.3 428.6L797.1 428.4L797.3 424.5L801.5 418.5L804.1 417.3L806.8 416.0L807.9 414.3L807.7 409.0L807.5 403.6L807.3 398.2L811.0 395.8L812.5 396.9L810.9 394.8L815.0 391.3L819.1 387.8L821.6 385.2L824.2 382.7L827.5 378.2L831.3 374.4L835.1 370.7L837.8 369.2L840.6 367.6L844.8 366.0L849.0 364.4L852.0 362.5L855.0 360.6L855.3 359.1L852.9 359.5L850.6 360.0L848.0 358.4L845.4 356.9L841.1 357.7L837.3 357.0L834.2 358.1L832.4 354.2L827.9 356.1L824.7 358.9L822.0 359.6L819.2 360.2L816.4 358.4L816.3 356.0L813.6 355.3L810.8 354.5L809.9 352.0L807.6 352.7L805.3 353.4L804.2 355.9L801.5 349.9L798.8 350.3L797.4 347.6L795.0 346.5L792.6 345.5L788.4 345.0L786.1 345.8L783.8 346.6L783.8 347.8L780.8 348.3L777.8 348.7L776.9 345.8L773.4 345.6L769.9 345.3L769.2 344.0L766.2 343.8L763.2 343.7L761.2 342.1L760.4 337.4L759.5 332.7L758.7 328.0L756.3 326.0L752.7 325.7L752.7 330.9L752.8 336.1L748.6 336.2L744.4 336.2L740.2 336.2L736.0 336.2L731.8 336.2L727.6 336.1L723.4 336.1L719.2 336.1Z"/>
<path class="s st-IA" fill="#C0271D" d="M728.5 486.3L725.8 486.9L726.9 489.2L726.2 494.0L728.7 496.7L727.2 498.7L726.5 504.1L724.7 508.2L728.4 514.2L730.2 520.4L732.0 526.6L734.8 528.5L736.1 533.3L734.9 536.6L735.4 540.4L739.0 542.8L739.0 546.3L738.9 549.8L740.9 556.0L740.4 559.5L739.8 563.1L742.2 566.7L746.9 566.8L751.5 566.9L756.2 566.9L760.9 566.9L765.6 567.0L770.3 566.8L775.0 566.7L779.7 566.6L784.5 566.4L789.2 566.2L793.9 566.1L798.8 565.8L803.7 565.5L808.6 565.2L813.5 564.9L818.3 564.6L823.2 564.2L825.4 564.0L829.8 569.4L832.1 570.2L832.2 565.2L835.0 563.5L837.8 561.9L838.2 557.6L840.7 554.8L840.8 549.9L837.2 546.2L838.3 541.2L842.2 540.4L846.2 539.5L849.2 537.5L852.3 535.6L852.7 531.4L855.3 529.4L855.7 524.1L854.9 520.6L850.3 518.2L849.5 515.4L844.9 510.6L843.2 507.2L839.6 505.9L836.0 504.5L834.2 500.2L833.2 494.0L835.5 490.6L832.4 488.0L832.0 484.0L828.9 484.1L824.2 484.3L819.4 484.6L814.6 484.8L809.8 485.0L805.0 485.1L800.2 485.3L795.5 485.5L790.7 485.6L785.9 485.7L781.1 485.8L776.3 486.0L771.5 486.0L766.7 486.1L762.0 486.2L757.2 486.2L752.4 486.3L747.6 486.3L742.8 486.3L738.0 486.4L733.2 486.3Z"/>
<path class="s st-MO" fill="#8B1A10" d="M742.2 566.7L744.4 571.2L746.6 575.6L749.2 579.2L751.8 582.9L753.9 585.4L757.2 586.5L760.6 587.5L758.3 591.5L756.0 595.5L758.7 598.2L762.1 604.7L766.6 606.0L766.7 612.7L766.8 619.3L766.9 625.9L766.9 632.5L767.0 639.2L767.1 645.8L767.2 652.4L767.3 659.1L767.4 665.7L767.5 672.6L767.6 679.5L770.7 679.4L775.9 679.4L781.1 679.3L786.4 679.2L791.6 679.0L796.8 678.9L802.1 678.7L807.3 678.6L812.5 678.4L817.8 678.2L823.0 678.0L828.2 677.8L833.5 677.6L838.7 677.3L843.9 677.1L849.2 676.8L854.4 676.5L859.6 676.2L864.8 675.9L867.1 681.1L863.9 684.6L860.8 690.0L865.5 689.7L870.2 689.4L874.9 689.1L876.9 685.5L878.8 681.9L878.2 675.1L879.4 675.0L880.8 674.9L881.8 671.3L885.1 672.3L885.6 666.7L886.0 661.0L882.6 661.0L879.9 657.2L877.2 653.4L878.8 651.5L876.7 646.3L876.4 642.1L872.8 639.4L869.1 636.7L866.8 637.4L864.2 633.9L860.9 631.3L857.6 628.7L857.5 624.3L859.0 620.7L860.6 617.0L859.9 614.5L861.8 611.0L858.6 609.2L854.0 608.3L851.7 611.0L850.0 609.4L849.0 604.9L848.1 600.4L844.4 597.7L840.8 594.9L837.4 591.5L834.0 588.1L832.5 584.0L831.0 579.8L830.5 574.2L832.1 570.2L829.8 569.4L825.4 564.0L823.2 564.2L818.3 564.6L813.5 564.9L808.6 565.2L803.7 565.5L798.8 565.8L793.9 566.1L789.2 566.2L784.5 566.4L779.7 566.6L775.0 566.7L770.3 566.8L765.6 567.0L760.9 566.9L756.2 566.9L751.5 566.9L746.9 566.8Z"/>
<path class="s st-AR" fill="#F2B03D" d="M767.6 679.5L768.5 685.6L769.4 691.7L770.3 697.8L771.2 703.9L772.1 710.0L772.1 716.1L772.0 722.2L772.0 728.2L771.9 734.3L771.9 740.4L771.8 746.4L771.7 752.5L771.7 758.6L774.1 761.1L778.5 759.7L781.8 760.8L781.9 765.7L782.0 770.6L782.1 775.4L787.0 775.3L791.9 775.2L797.5 775.1L803.1 775.0L808.7 774.9L814.2 774.7L819.8 774.6L825.4 774.4L831.0 774.2L836.5 774.0L842.1 773.8L847.7 773.6L849.2 769.7L847.7 764.0L849.6 761.7L845.4 758.2L847.0 753.9L848.6 749.6L852.4 745.0L850.9 742.1L855.3 737.3L855.1 735.5L859.1 733.7L858.4 728.3L860.6 727.0L861.9 722.2L865.3 719.9L863.9 717.6L866.0 716.7L867.9 711.7L867.1 705.1L870.9 700.3L871.4 696.0L874.5 694.3L874.9 689.1L870.2 689.4L865.5 689.7L860.8 690.0L863.9 684.6L867.1 681.1L864.8 675.9L859.6 676.2L854.4 676.5L849.2 676.8L843.9 677.1L838.7 677.3L833.5 677.6L828.2 677.8L823.0 678.0L817.8 678.2L812.5 678.4L807.3 678.6L802.1 678.7L796.8 678.9L791.6 679.0L786.4 679.2L781.1 679.3L775.9 679.4L770.7 679.4Z"/>
<path class="s st-LA" fill="#C0271D" d="M782.2 781.1L782.3 786.7L782.4 792.4L782.5 798.0L782.7 803.7L787.9 809.6L788.1 815.6L791.4 821.1L794.8 826.6L795.3 832.4L794.2 836.0L793.1 839.6L790.8 842.5L791.7 846.2L790.1 849.1L792.0 854.3L789.3 859.3L786.6 864.2L788.1 866.0L788.8 866.9L790.5 865.8L794.7 865.2L799.0 864.7L803.3 864.1L806.3 864.8L809.3 865.6L813.6 867.3L817.9 869.0L821.6 869.5L825.3 869.9L829.9 867.4L829.0 864.8L832.0 863.1L835.0 861.3L835.2 864.7L838.3 864.2L841.4 863.7L843.8 869.3L845.9 868.8L851.4 871.5L854.7 878.1L857.9 878.2L861.9 880.5L865.5 879.1L867.3 874.8L872.8 874.7L875.4 878.6L878.5 877.8L880.2 874.1L879.7 870.2L883.9 868.4L884.2 873.1L887.6 872.5L890.4 874.5L893.4 877.0L895.5 879.3L896.5 882.3L897.7 880.3L900.7 877.8L904.3 876.8L904.7 874.0L901.0 872.0L897.5 871.8L894.4 870.6L891.4 869.3L887.5 867.3L889.0 863.3L888.2 860.8L893.6 861.7L896.4 860.0L896.5 856.6L891.3 852.6L889.2 857.1L883.3 855.7L883.7 852.9L887.0 850.8L890.4 848.7L887.4 846.1L886.2 841.6L881.9 835.9L882.8 831.3L883.6 826.7L878.1 827.1L872.6 827.4L867.1 827.7L861.6 828.1L856.0 828.4L850.5 828.7L845.0 828.9L839.5 829.2L841.0 827.2L839.1 821.8L841.9 821.4L841.9 816.3L841.8 811.3L844.1 811.8L845.2 805.5L850.5 801.4L852.9 794.9L852.5 790.8L852.0 786.8L848.4 783.5L848.4 777.9L850.0 776.6L847.7 773.6L842.1 773.8L836.5 774.0L831.0 774.2L825.4 774.4L819.8 774.6L814.2 774.7L808.7 774.9L803.1 775.0L797.5 775.1L791.9 775.2L787.0 775.3L782.1 775.4Z"/>
<path class="s st-WI" fill="#E6F250" d="M812.5 396.9L811.0 395.8L807.3 398.2L807.5 403.6L807.7 409.0L807.9 414.3L806.8 416.0L804.1 417.3L801.5 418.5L797.3 424.5L797.1 428.4L799.3 428.6L801.8 432.0L799.8 436.2L800.4 440.9L799.8 445.9L799.3 451.0L802.0 453.4L804.6 455.8L808.7 456.1L810.8 459.0L813.9 460.4L816.9 461.8L818.0 465.3L820.9 467.5L823.8 469.7L827.0 470.6L831.0 476.5L830.7 480.9L832.0 484.0L832.4 488.0L835.5 490.6L833.2 494.0L834.2 500.2L836.0 504.5L839.6 505.9L843.2 507.2L844.9 510.6L849.5 510.4L854.1 510.2L858.8 510.0L863.4 509.7L868.0 509.5L872.7 509.2L877.3 508.9L882.0 508.6L886.9 508.2L891.8 507.9L896.7 507.4L901.7 507.0L901.7 503.0L901.7 499.0L898.8 493.2L897.7 486.5L898.5 482.1L899.4 477.7L900.8 474.1L899.7 468.9L901.0 462.6L902.9 460.9L902.3 456.4L903.3 450.0L905.5 444.1L907.6 438.1L910.1 434.6L909.9 431.0L906.2 432.8L904.9 436.4L903.7 440.0L899.8 442.5L897.1 448.1L894.4 451.2L892.1 450.7L892.9 446.2L895.5 439.7L899.2 438.7L899.6 435.4L896.4 432.8L897.9 428.8L893.3 428.5L894.8 424.7L894.6 419.9L890.3 416.9L887.8 413.7L883.7 412.7L879.5 411.6L877.1 412.7L872.9 411.0L868.7 409.3L864.7 408.5L860.7 407.6L856.7 406.8L852.7 405.9L848.8 405.1L846.4 400.6L842.8 399.2L840.1 398.9L836.9 396.7L833.7 394.6L836.0 390.9L834.3 389.0L831.9 390.4L829.6 391.8L825.3 393.6L821.0 395.3L816.7 397.1Z"/>
<path class="s st-IL" fill="#E6F250" d="M844.9 510.6L849.5 515.4L850.3 518.2L854.9 520.6L855.7 524.1L855.3 529.4L852.7 531.4L852.3 535.6L849.2 537.5L846.2 539.5L842.2 540.4L838.3 541.2L837.2 546.2L840.8 549.9L840.7 554.8L838.2 557.6L837.8 561.9L835.0 563.5L832.2 565.2L832.1 570.2L830.5 574.2L831.0 579.8L832.5 584.0L834.0 588.1L837.4 591.5L840.8 594.9L844.4 597.7L848.1 600.4L849.0 604.9L850.0 609.4L851.7 611.0L854.0 608.3L858.6 609.2L861.8 611.0L859.9 614.5L860.6 617.0L859.0 620.7L857.5 624.3L857.6 628.7L860.9 631.3L864.2 633.9L866.8 637.4L869.1 636.7L872.8 639.4L876.4 642.1L876.7 646.3L878.8 651.5L877.2 653.4L879.9 657.2L882.6 661.0L886.0 661.0L884.9 659.6L887.8 654.5L890.3 654.0L894.4 655.8L898.5 657.6L901.1 655.2L898.8 651.7L899.4 648.8L903.7 647.1L908.0 645.5L905.6 640.8L908.1 636.6L907.2 634.9L907.9 628.3L909.5 626.8L908.6 623.4L911.0 622.7L914.3 616.5L914.7 612.8L917.0 608.6L916.2 603.9L913.0 598.2L914.9 593.0L914.3 586.5L913.7 580.0L913.2 573.5L912.6 567.0L912.0 560.5L911.5 554.0L910.9 547.5L910.3 541.0L909.8 534.5L909.2 528.1L907.1 523.1L905.1 518.2L901.5 512.3L901.7 507.0L896.7 507.4L891.8 507.9L886.9 508.2L882.0 508.6L877.3 508.9L872.7 509.2L868.0 509.5L863.4 509.7L858.8 510.0L854.1 510.2L849.5 510.4Z"/>
<path class="s st-MI" fill="#8B1A10" d="M940.0 523.7L944.8 523.2L949.6 522.6L954.3 522.1L959.1 521.6L963.9 521.0L964.1 522.8L968.6 522.1L973.1 521.4L977.6 520.6L982.2 519.9L986.7 519.1L991.2 518.3L991.2 516.0L993.4 513.1L995.6 510.1L995.9 503.7L999.5 500.0L1000.2 495.7L1000.9 491.4L1002.9 490.1L1003.5 493.6L1006.6 491.7L1006.9 486.6L1007.2 481.5L1005.6 478.2L1004.1 475.0L1002.9 469.3L1001.1 463.8L999.3 458.3L996.7 454.7L993.1 453.1L990.0 454.9L986.8 456.7L985.1 460.5L983.5 464.2L980.3 468.2L975.3 466.5L974.0 464.3L975.8 457.7L980.2 455.3L980.5 449.9L984.1 446.8L984.0 441.7L983.9 436.6L982.3 432.1L979.2 428.4L981.4 424.9L977.4 419.5L975.4 420.0L972.2 418.6L968.9 417.2L965.4 417.3L962.6 413.7L957.8 413.9L955.3 412.6L952.7 411.3L948.4 412.1L945.6 417.4L947.9 423.0L945.4 424.0L942.8 425.0L941.5 427.3L941.9 431.4L942.3 435.6L940.4 440.8L938.3 440.6L937.9 435.7L937.5 430.7L934.3 436.1L931.9 436.9L929.4 437.8L929.5 442.3L926.5 444.0L927.4 447.2L927.1 453.4L925.2 457.3L923.4 461.2L924.4 464.8L925.4 468.3L924.2 474.5L926.6 479.6L929.1 484.7L931.6 489.8L932.2 493.8L932.9 497.8L932.7 501.7L932.6 505.5L931.2 510.9L929.1 514.9L927.0 521.4L923.2 525.4L927.4 525.0L931.6 524.5L935.8 524.1Z"/>
<path class="s st-MIUP" fill="#8B1A10" d="M842.8 399.2L846.4 400.6L848.8 405.1L852.7 405.9L856.7 406.8L860.7 407.6L864.7 408.5L868.7 409.3L872.9 411.0L877.1 412.7L879.5 411.6L883.7 412.7L887.8 413.7L890.3 416.9L894.6 419.9L894.8 424.7L893.3 428.5L897.9 428.8L896.4 432.8L899.6 435.4L899.1 434.7L901.5 430.3L903.9 426.0L906.2 419.3L908.0 417.4L912.4 416.9L913.1 413.0L915.7 413.5L915.8 417.1L918.6 415.6L921.5 414.0L921.7 411.0L923.7 409.3L926.5 409.4L929.2 409.4L931.6 408.7L934.1 408.0L936.7 404.1L939.8 403.9L943.0 404.7L946.2 405.4L950.2 408.7L952.6 409.1L951.6 406.6L952.8 403.5L955.7 404.8L958.6 406.1L961.0 405.2L963.4 404.3L966.9 404.4L970.5 404.6L974.0 404.7L975.4 402.4L973.0 399.9L969.4 400.3L969.4 403.1L965.5 402.5L962.5 398.8L961.9 394.0L961.2 389.3L958.5 390.0L955.9 390.7L953.7 393.2L951.9 391.6L948.3 393.3L944.5 392.7L943.7 388.9L942.9 385.2L939.3 385.7L937.1 387.0L934.9 388.3L931.3 388.6L927.8 388.8L925.3 389.4L922.7 390.0L919.5 392.4L916.4 394.8L913.2 397.2L910.8 397.0L908.4 396.8L907.1 395.3L904.8 396.1L902.4 396.9L899.8 395.8L897.2 392.3L894.7 388.7L892.0 387.6L889.4 386.5L886.1 386.5L882.9 386.4L879.6 390.6L879.1 385.6L880.6 382.6L884.0 378.1L887.3 373.7L889.6 373.0L892.0 372.4L890.0 370.9L886.5 371.5L882.9 372.1L878.7 374.7L876.1 378.3L873.3 380.5L870.5 382.8L868.7 385.8L866.2 386.1L863.7 388.3L861.2 390.5L857.1 391.4L853.1 392.4L850.0 395.9L846.4 397.5Z"/>
<path class="s st-IN" fill="#F2B03D" d="M909.2 528.1L909.8 534.5L910.3 541.0L910.9 547.5L911.5 554.0L912.0 560.5L912.6 567.0L913.2 573.5L913.7 580.0L914.3 586.5L914.9 593.0L913.0 598.2L916.2 603.9L917.0 608.6L914.7 612.8L914.3 616.5L911.0 622.7L908.6 623.4L909.5 626.8L907.9 628.3L907.2 634.9L908.1 636.6L909.8 633.9L912.5 633.5L915.2 633.1L916.7 631.0L918.8 632.8L921.5 631.7L924.4 633.5L927.3 635.2L928.7 632.2L931.3 630.6L933.8 629.0L935.5 631.6L940.2 630.0L939.5 627.1L943.8 623.1L945.0 626.2L950.0 628.3L952.3 626.2L952.9 622.6L953.5 619.1L957.1 617.3L958.1 613.7L961.4 611.0L960.6 605.6L963.3 605.9L966.1 606.2L969.7 603.2L973.4 602.6L972.1 599.0L970.8 595.3L972.3 593.9L971.6 587.5L970.9 581.1L970.2 574.7L969.5 568.3L968.8 561.9L968.1 555.5L967.3 549.0L966.5 542.4L965.7 535.9L964.9 529.3L964.1 522.8L963.9 521.0L959.1 521.6L954.3 522.1L949.6 522.6L944.8 523.2L940.0 523.7L935.8 524.1L931.6 524.5L927.4 525.0L923.2 525.4L920.4 527.2L917.5 529.1L914.4 529.4L911.3 529.7Z"/>
<path class="s st-OH" fill="#C0271D" d="M964.1 522.8L964.9 529.3L965.7 535.9L966.5 542.4L967.3 549.0L968.1 555.5L968.8 561.9L969.5 568.3L970.2 574.7L970.9 581.1L971.6 587.5L972.3 593.9L976.3 593.4L980.3 593.0L985.2 598.1L985.9 600.5L989.2 600.6L992.5 600.7L997.7 603.9L1000.8 601.5L1004.9 602.0L1009.0 602.5L1011.0 599.5L1013.8 598.2L1015.4 602.7L1017.9 603.1L1021.3 606.5L1024.0 605.8L1026.8 605.1L1027.0 601.4L1029.4 599.5L1027.7 595.5L1030.6 588.3L1034.3 592.0L1036.1 589.2L1035.1 586.1L1036.9 580.5L1039.3 580.2L1041.1 576.0L1043.7 577.4L1046.1 575.8L1049.4 570.8L1052.7 565.7L1052.9 560.6L1053.0 555.4L1054.7 548.4L1054.2 544.2L1052.2 541.4L1055.0 539.4L1054.0 533.3L1053.0 527.2L1052.0 521.1L1051.0 515.1L1050.0 509.0L1049.0 502.9L1044.4 505.4L1039.7 507.9L1035.8 511.0L1031.8 514.2L1029.2 517.2L1026.6 520.2L1023.8 520.2L1021.0 520.2L1016.6 522.7L1012.2 525.2L1009.2 524.3L1004.2 520.5L1002.5 522.9L999.5 521.0L995.3 519.7L991.2 518.3L986.7 519.1L982.2 519.9L977.6 520.6L973.1 521.4L968.6 522.1Z"/>
<path class="s st-KY" fill="#F5DB4C" d="M886.0 661.0L885.6 666.7L885.1 672.3L881.8 671.3L880.8 674.9L883.4 674.4L888.8 674.1L894.2 673.7L899.7 673.4L905.1 673.0L910.5 672.6L909.7 667.7L914.6 668.5L919.1 668.0L923.6 667.5L928.2 667.0L932.7 666.4L937.3 665.9L941.8 665.3L946.6 665.1L951.4 664.8L956.2 664.5L961.1 664.2L965.9 663.9L970.1 663.1L975.5 662.8L980.9 662.5L986.3 662.1L991.0 661.6L995.6 661.1L1000.2 660.6L1004.8 660.1L1005.1 659.6L1008.8 657.8L1012.5 656.0L1016.2 654.1L1017.2 651.0L1021.2 649.3L1021.1 646.9L1024.0 644.7L1023.7 642.6L1027.3 640.0L1031.0 637.4L1034.5 633.1L1038.1 628.8L1035.2 628.8L1030.7 626.3L1029.2 623.3L1025.2 619.7L1021.9 614.8L1021.6 610.6L1021.3 606.5L1017.9 603.1L1015.4 602.7L1013.8 598.2L1011.0 599.5L1009.0 602.5L1004.9 602.0L1000.8 601.5L997.7 603.9L992.5 600.7L989.2 600.6L985.9 600.5L985.2 598.1L980.3 593.0L976.3 593.4L972.3 593.9L970.8 595.3L972.1 599.0L973.4 602.6L969.7 603.2L966.1 606.2L963.3 605.9L960.6 605.6L961.4 611.0L958.1 613.7L957.1 617.3L953.5 619.1L952.9 622.6L952.3 626.2L950.0 628.3L945.0 626.2L943.8 623.1L939.5 627.1L940.2 630.0L935.5 631.6L933.8 629.0L931.3 630.6L928.7 632.2L927.3 635.2L924.4 633.5L921.5 631.7L918.8 632.8L916.7 631.0L915.2 633.1L912.5 633.5L909.8 633.9L908.1 636.6L905.6 640.8L908.0 645.5L903.7 647.1L899.4 648.8L898.8 651.7L901.1 655.2L898.5 657.6L894.4 655.8L890.3 654.0L887.8 654.5L884.9 659.6Z"/>
<path class="s st-TN" fill="#C0271D" d="M880.8 674.9L879.4 675.0L878.2 675.1L878.8 681.9L876.9 685.5L874.9 689.1L874.5 694.3L871.4 696.0L870.9 700.3L867.1 705.1L867.9 711.7L866.0 716.7L863.9 717.6L869.0 717.2L874.1 716.9L879.2 716.6L884.3 716.2L889.4 715.9L894.5 715.5L899.6 715.1L904.7 714.7L907.7 714.5L910.7 714.2L915.3 713.8L920.0 713.4L924.7 712.9L929.3 712.5L934.2 712.1L939.1 711.7L943.9 711.2L948.8 710.8L953.6 710.4L958.5 709.9L963.3 709.5L968.2 709.0L972.9 708.5L977.7 707.9L982.4 707.3L987.1 706.7L991.9 706.1L996.6 705.5L996.4 699.0L1000.7 697.9L1001.8 693.1L1006.7 688.4L1009.7 687.9L1012.7 687.5L1017.5 682.5L1020.2 681.4L1022.9 680.3L1026.8 673.5L1029.5 671.3L1030.5 673.9L1034.4 670.6L1038.3 667.4L1042.4 667.9L1044.4 662.4L1048.2 660.4L1048.2 653.8L1042.8 654.6L1037.4 655.4L1032.0 656.1L1026.7 656.8L1021.3 657.5L1015.9 658.2L1010.5 658.9L1005.1 659.6L1004.8 660.1L1000.2 660.6L995.6 661.1L991.0 661.6L986.3 662.1L980.9 662.5L975.5 662.8L970.1 663.1L965.9 663.9L961.1 664.2L956.2 664.5L951.4 664.8L946.6 665.1L941.8 665.3L937.3 665.9L932.7 666.4L928.2 667.0L923.6 667.5L919.1 668.0L914.6 668.5L909.7 667.7L910.5 672.6L905.1 673.0L899.7 673.4L894.2 673.7L888.8 674.1L883.4 674.4Z"/>
<path class="s st-MS" fill="#A6F04D" d="M863.9 717.6L865.3 719.9L861.9 722.2L860.6 727.0L858.4 728.3L859.1 733.7L855.1 735.5L855.3 737.3L850.9 742.1L852.4 745.0L848.6 749.6L847.0 753.9L845.4 758.2L849.6 761.7L847.7 764.0L849.2 769.7L847.7 773.6L850.0 776.6L848.4 777.9L848.4 783.5L852.0 786.8L852.5 790.8L852.9 794.9L850.5 801.4L845.2 805.5L844.1 811.8L841.8 811.3L841.9 816.3L841.9 821.4L839.1 821.8L841.0 827.2L839.5 829.2L845.0 828.9L850.5 828.7L856.0 828.4L861.6 828.1L867.1 827.7L872.6 827.4L878.1 827.1L883.6 826.7L882.8 831.3L881.9 835.9L886.2 841.6L887.4 846.1L890.4 848.7L892.7 846.6L896.6 844.8L900.4 842.9L905.9 841.3L908.4 842.9L914.1 843.1L916.6 841.7L915.9 835.7L915.1 829.7L914.4 823.8L913.7 817.8L912.9 811.9L912.2 805.9L911.5 799.9L911.6 793.4L911.8 786.8L911.9 780.2L912.0 773.6L912.2 767.1L912.3 760.5L912.4 753.9L912.5 747.3L912.7 741.2L912.8 735.1L912.9 729.1L913.1 723.0L913.2 716.9L910.7 714.2L907.7 714.5L904.7 714.7L899.6 715.1L894.5 715.5L889.4 715.9L884.3 716.2L879.2 716.6L874.1 716.9L869.0 717.2Z"/>
<path class="s st-AL" fill="#E85D26" d="M968.2 709.0L963.3 709.5L958.5 709.9L953.6 710.4L948.8 710.8L943.9 711.2L939.1 711.7L934.2 712.1L929.3 712.5L924.7 712.9L920.0 713.4L915.3 713.8L910.7 714.2L913.2 716.9L913.1 723.0L912.9 729.1L912.8 735.1L912.7 741.2L912.5 747.3L912.4 753.9L912.3 760.5L912.2 767.1L912.0 773.6L911.9 780.2L911.8 786.8L911.6 793.4L911.5 799.9L912.2 805.9L912.9 811.9L913.7 817.8L914.4 823.8L915.1 829.7L915.9 835.7L916.6 841.7L919.7 842.1L922.8 842.5L923.1 837.5L924.9 832.2L926.7 832.8L928.0 839.5L931.1 841.5L934.3 843.5L937.4 842.3L940.5 837.9L938.5 835.9L939.0 831.3L933.3 826.5L933.7 822.8L939.2 822.4L944.6 821.9L950.1 821.3L955.5 820.8L961.0 820.3L966.4 819.7L971.9 819.1L977.3 818.6L982.7 818.0L988.5 817.2L994.2 816.5L992.5 812.9L990.8 809.3L991.2 805.6L991.6 802.0L990.0 798.0L988.4 794.0L989.8 789.1L989.3 785.7L992.8 781.8L990.0 780.4L990.7 777.6L987.7 773.6L985.9 769.9L984.2 766.2L982.6 760.6L981.0 754.9L979.4 749.2L977.8 743.5L976.3 737.9L974.7 732.2L973.1 726.4L971.4 720.6L969.8 714.8Z"/>
<path class="s st-GA" fill="#EB8C34" d="M996.6 705.5L991.9 706.1L987.1 706.7L982.4 707.3L977.7 707.9L972.9 708.5L968.2 709.0L969.8 714.8L971.4 720.6L973.1 726.4L974.7 732.2L976.3 737.9L977.8 743.5L979.4 749.2L981.0 754.9L982.6 760.6L984.2 766.2L985.9 769.9L987.7 773.6L990.7 777.6L990.0 780.4L992.8 781.8L989.3 785.7L989.8 789.1L988.4 794.0L990.0 798.0L991.6 802.0L991.2 805.6L990.8 809.3L992.5 812.9L994.2 816.5L996.2 820.3L998.3 824.1L1003.7 823.7L1009.0 823.4L1014.4 823.0L1019.7 822.6L1025.1 822.3L1030.4 821.9L1035.5 821.5L1040.5 821.2L1045.5 820.9L1050.5 820.5L1055.6 820.2L1060.6 819.8L1062.6 825.4L1065.4 824.9L1065.6 819.2L1063.9 814.3L1065.8 811.9L1071.5 813.3L1074.7 813.3L1078.0 813.4L1077.6 807.5L1077.2 801.6L1079.4 799.3L1079.0 794.9L1080.8 790.4L1081.0 785.5L1083.1 780.4L1085.2 775.3L1079.6 773.8L1078.7 769.2L1076.3 765.8L1073.9 762.5L1070.5 761.0L1069.4 755.2L1067.2 751.0L1063.9 749.4L1060.5 747.7L1055.8 743.2L1055.6 740.1L1052.3 738.2L1048.9 736.3L1045.2 731.7L1039.6 729.0L1035.2 723.8L1034.1 720.7L1029.8 715.2L1027.6 716.0L1023.5 713.6L1019.4 711.2L1019.4 708.3L1023.3 701.8L1019.6 702.4L1015.8 703.1L1012.1 703.7L1006.9 704.3L1001.8 704.9Z"/>
<path class="s st-FL" fill="#EB8C34" d="M994.2 816.5L988.5 817.2L982.7 818.0L977.3 818.6L971.9 819.1L966.4 819.7L961.0 820.3L955.5 820.8L950.1 821.3L944.6 821.9L939.2 822.4L933.7 822.8L933.3 826.5L939.0 831.3L938.5 835.9L940.5 837.9L937.4 842.3L942.1 841.0L946.8 839.7L951.5 838.4L954.7 837.8L958.0 837.2L961.9 837.3L965.9 837.3L970.4 838.6L975.0 839.8L979.4 842.1L983.7 844.3L988.1 846.6L991.0 849.9L991.1 852.9L996.2 851.7L1001.4 850.5L1006.0 847.4L1010.6 844.2L1013.3 844.7L1012.4 840.5L1016.2 839.4L1020.1 838.2L1024.9 840.6L1029.8 843.0L1032.9 847.1L1036.0 848.2L1036.8 852.2L1041.5 854.3L1047.7 860.1L1052.3 860.4L1053.8 864.3L1057.1 866.8L1057.6 873.1L1058.1 879.3L1057.3 884.4L1056.6 889.5L1055.9 894.7L1059.8 899.5L1062.5 895.7L1067.2 894.4L1064.3 900.3L1061.5 906.3L1065.0 909.5L1068.3 914.0L1071.6 918.5L1074.8 923.0L1077.3 921.8L1076.1 918.5L1079.0 919.1L1079.1 924.9L1080.9 928.7L1086.9 934.0L1088.5 939.3L1092.5 945.5L1096.0 943.3L1100.6 944.9L1104.3 950.4L1108.0 955.9L1107.6 960.2L1110.3 962.6L1114.2 961.4L1118.0 960.1L1122.3 957.3L1124.4 958.2L1128.3 952.4L1127.1 950.4L1127.8 946.7L1128.4 943.1L1130.6 942.3L1130.4 936.6L1130.1 931.0L1129.8 925.3L1129.6 919.7L1128.6 913.5L1126.2 907.7L1122.7 901.7L1119.3 895.6L1115.9 889.6L1112.9 885.2L1109.9 880.7L1108.9 876.5L1108.0 872.3L1109.3 870.7L1104.8 865.1L1100.3 859.5L1095.8 853.9L1092.6 848.5L1089.4 843.1L1086.2 837.6L1083.7 831.3L1081.2 824.9L1079.6 819.1L1078.0 813.4L1074.7 813.3L1071.5 813.3L1065.8 811.9L1063.9 814.3L1065.6 819.2L1065.4 824.9L1062.6 825.4L1060.6 819.8L1055.6 820.2L1050.5 820.5L1045.5 820.9L1040.5 821.2L1035.5 821.5L1030.4 821.9L1025.1 822.3L1019.7 822.6L1014.4 823.0L1009.0 823.4L1003.7 823.7L998.3 824.1L996.2 820.3Z"/>
<path class="s st-SC" fill="#8B1A10" d="M1023.3 701.8L1019.4 708.3L1019.4 711.2L1023.5 713.6L1027.6 716.0L1029.8 715.2L1034.1 720.7L1035.2 723.8L1039.6 729.0L1045.2 731.7L1048.9 736.3L1052.3 738.2L1055.6 740.1L1055.8 743.2L1060.5 747.7L1063.9 749.4L1067.2 751.0L1069.4 755.2L1070.5 761.0L1073.9 762.5L1076.3 765.8L1078.7 769.2L1079.6 773.8L1085.2 775.3L1089.4 768.7L1093.7 765.7L1093.9 763.7L1098.3 758.7L1102.7 756.2L1105.0 751.9L1109.7 747.4L1110.3 743.9L1115.3 743.0L1118.3 737.9L1118.2 732.1L1119.9 728.2L1121.7 724.2L1125.8 718.9L1129.4 716.8L1123.4 712.6L1117.5 708.3L1111.5 704.1L1105.6 699.8L1099.7 695.4L1094.8 696.2L1089.8 697.0L1084.9 697.7L1079.9 698.4L1074.9 699.1L1074.8 695.9L1070.7 691.8L1068.7 693.9L1068.1 691.0L1062.6 691.6L1057.2 692.2L1051.7 692.7L1046.3 693.3L1040.8 693.8L1037.9 694.8L1035.0 695.7L1030.6 698.9L1027.0 700.3Z"/>
<path class="s st-NC" fill="#E85D26" d="M1048.2 653.8L1048.2 660.4L1044.4 662.4L1042.4 667.9L1038.3 667.4L1034.4 670.6L1030.5 673.9L1029.5 671.3L1026.8 673.5L1022.9 680.3L1020.2 681.4L1017.5 682.5L1012.7 687.5L1009.7 687.9L1006.7 688.4L1001.8 693.1L1000.7 697.9L996.4 699.0L996.6 705.5L1001.8 704.9L1006.9 704.3L1012.1 703.7L1015.8 703.1L1019.6 702.4L1023.3 701.8L1027.0 700.3L1030.6 698.9L1035.0 695.7L1037.9 694.8L1040.8 693.8L1046.3 693.3L1051.7 692.7L1057.2 692.2L1062.6 691.6L1068.1 691.0L1068.7 693.9L1070.7 691.8L1074.8 695.9L1074.9 699.1L1079.9 698.4L1084.9 697.7L1089.8 697.0L1094.8 696.2L1099.7 695.4L1105.6 699.8L1111.5 704.1L1117.5 708.3L1123.4 712.6L1129.4 716.8L1133.3 715.2L1137.1 713.6L1142.1 714.6L1142.8 710.0L1143.6 705.4L1145.9 701.4L1148.3 697.4L1151.5 694.0L1154.8 690.7L1159.3 688.1L1164.1 685.8L1168.2 684.3L1170.1 682.2L1172.0 682.8L1173.0 679.8L1172.4 677.1L1169.7 676.4L1167.1 678.0L1164.1 680.2L1160.3 680.7L1157.3 679.2L1154.7 676.8L1156.9 677.9L1159.6 679.4L1162.6 679.0L1164.9 676.0L1165.2 672.2L1166.0 668.8L1163.3 668.1L1159.6 667.7L1155.8 667.0L1152.4 664.9L1155.1 664.7L1158.8 665.1L1162.6 664.7L1163.7 661.8L1166.0 661.3L1167.1 663.6L1170.9 664.9L1174.3 665.1L1176.5 661.3L1177.7 658.7L1179.9 657.9L1181.4 655.3L1180.7 651.9L1178.4 648.9L1175.4 648.1L1173.1 648.9L1170.1 648.1L1167.1 648.9L1164.1 649.3L1161.1 650.4L1158.8 651.1L1158.1 648.9L1156.9 645.1L1155.1 642.7L1152.4 641.0L1155.1 641.4L1157.3 643.6L1159.6 646.6L1162.6 648.1L1164.9 647.4L1167.9 645.1L1170.1 644.0L1173.1 643.0L1174.3 642.3L1173.3 639.9L1171.5 634.7L1172.9 632.0L1167.7 633.2L1162.6 634.3L1157.4 635.4L1152.2 636.5L1147.0 637.5L1141.8 638.6L1136.6 639.7L1131.4 640.7L1126.3 641.7L1121.1 642.7L1115.9 643.7L1110.7 644.7L1105.5 645.7L1100.2 646.6L1095.0 647.5L1090.8 648.2L1086.6 648.9L1082.4 649.6L1078.2 650.3L1073.2 650.9L1068.3 651.6L1063.4 652.2L1058.3 652.8L1053.2 653.3Z"/>
<path class="s st-VA" fill="#C0271D" d="M1038.1 628.8L1034.5 633.1L1031.0 637.4L1027.3 640.0L1023.7 642.6L1024.0 644.7L1021.1 646.9L1021.2 649.3L1017.2 651.0L1016.2 654.1L1012.5 656.0L1008.8 657.8L1005.1 659.6L1010.5 658.9L1015.9 658.2L1021.3 657.5L1026.7 656.8L1032.0 656.1L1037.4 655.4L1042.8 654.6L1048.2 653.8L1053.2 653.3L1058.3 652.8L1063.4 652.2L1068.3 651.6L1073.2 650.9L1078.2 650.3L1082.4 649.6L1086.6 648.9L1090.8 648.2L1095.0 647.5L1100.2 646.6L1105.5 645.7L1110.7 644.7L1115.9 643.7L1121.1 642.7L1126.3 641.7L1131.4 640.7L1136.6 639.7L1141.8 638.6L1147.0 637.5L1152.2 636.5L1157.4 635.4L1162.6 634.3L1167.7 633.2L1172.9 632.0L1170.5 627.3L1168.1 622.6L1162.8 623.3L1157.4 624.0L1153.0 621.7L1153.7 620.0L1159.0 623.4L1161.2 619.5L1158.1 618.0L1157.8 614.5L1160.1 611.1L1156.4 605.7L1156.9 601.6L1157.4 597.5L1154.1 596.3L1150.8 595.1L1148.1 592.1L1144.2 591.9L1140.4 591.8L1138.5 587.7L1135.8 588.7L1133.0 589.7L1131.6 587.1L1132.4 582.9L1134.7 581.2L1135.6 576.5L1133.2 573.0L1130.0 571.0L1125.5 570.5L1124.7 566.5L1122.0 564.7L1118.7 564.9L1117.5 570.6L1113.3 568.2L1109.1 565.9L1105.0 563.5L1105.2 567.6L1105.4 571.8L1101.6 578.2L1097.8 584.6L1094.7 582.7L1093.4 587.9L1092.0 593.2L1090.2 595.8L1086.6 595.2L1082.4 592.1L1081.9 598.6L1078.6 604.4L1077.8 609.6L1074.6 614.3L1073.0 619.0L1073.7 624.0L1070.4 627.0L1069.3 625.5L1064.9 628.9L1060.4 632.3L1057.8 633.5L1055.2 634.7L1051.8 632.3L1048.3 636.5L1045.6 637.1L1041.7 635.4L1038.0 631.1Z"/>
<path class="s st-WV" fill="#F5DB4C" d="M1055.0 539.4L1052.2 541.4L1054.2 544.2L1054.7 548.4L1053.0 555.4L1052.9 560.6L1052.7 565.7L1049.4 570.8L1046.1 575.8L1043.7 577.4L1041.1 576.0L1039.3 580.2L1036.9 580.5L1035.1 586.1L1036.1 589.2L1034.3 592.0L1030.6 588.3L1027.7 595.5L1029.4 599.5L1027.0 601.4L1026.8 605.1L1024.0 605.8L1021.3 606.5L1021.6 610.6L1021.9 614.8L1025.2 619.7L1029.2 623.3L1030.7 626.3L1035.2 628.8L1038.1 628.8L1038.0 631.1L1041.7 635.4L1045.6 637.1L1048.3 636.5L1051.8 632.3L1055.2 634.7L1057.8 633.5L1060.4 632.3L1064.9 628.9L1069.3 625.5L1070.4 627.0L1073.7 624.0L1073.0 619.0L1074.6 614.3L1077.8 609.6L1078.6 604.4L1081.9 598.6L1082.4 592.1L1086.6 595.2L1090.2 595.8L1092.0 593.2L1093.4 587.9L1094.7 582.7L1097.8 584.6L1101.6 578.2L1105.4 571.8L1105.2 567.6L1105.0 563.5L1109.1 565.9L1113.3 568.2L1117.5 570.6L1118.7 564.9L1116.8 561.3L1114.9 557.8L1111.4 558.5L1107.4 556.6L1105.9 559.0L1102.5 559.5L1102.3 562.6L1099.1 562.2L1095.8 561.8L1092.5 566.6L1089.6 566.2L1086.4 571.5L1082.8 574.8L1082.0 570.1L1081.3 565.4L1080.5 560.7L1076.2 561.5L1072.0 562.2L1067.7 563.0L1063.4 563.7L1059.1 564.4L1058.1 558.1L1057.1 551.9L1056.0 545.7Z"/>
<path class="s st-PA" fill="#EB8C34" d="M1049.0 502.9L1050.0 509.0L1051.0 515.1L1052.0 521.1L1053.0 527.2L1054.0 533.3L1055.0 539.4L1056.0 545.7L1057.1 551.9L1058.1 558.1L1059.1 564.4L1063.4 563.7L1067.7 563.0L1072.0 562.2L1076.2 561.5L1080.5 560.7L1085.6 559.8L1090.6 558.9L1095.7 558.0L1100.7 557.1L1105.8 556.1L1110.8 555.2L1115.9 554.2L1120.9 553.2L1126.0 552.2L1131.0 551.2L1136.0 550.2L1141.1 549.1L1146.1 548.1L1151.1 547.0L1156.1 545.9L1159.0 542.2L1163.2 542.1L1165.7 540.4L1168.2 538.6L1168.1 536.5L1170.7 533.6L1173.3 530.7L1173.8 528.1L1170.3 526.0L1166.8 523.9L1165.8 520.6L1163.1 520.2L1162.2 517.2L1164.2 511.8L1161.9 509.3L1163.8 506.0L1165.7 502.6L1166.1 499.4L1168.3 496.9L1167.0 495.2L1163.9 495.7L1159.3 492.0L1158.8 487.9L1155.8 485.3L1154.3 485.8L1151.3 482.6L1146.5 483.6L1141.6 484.7L1136.8 485.7L1132.0 486.7L1127.1 487.8L1122.3 488.8L1117.4 489.7L1112.6 490.7L1107.7 491.7L1102.9 492.6L1098.0 493.5L1093.2 494.5L1088.3 495.4L1083.4 496.3L1078.6 497.2L1073.7 498.0L1068.8 498.9L1064.0 499.7L1063.4 496.3L1062.8 492.9L1062.7 492.4L1059.3 495.2L1055.9 498.0L1052.5 500.8Z"/>
<path class="s st-NY" fill="#C0271D" d="M1062.8 492.9L1063.4 496.3L1064.0 499.7L1068.8 498.9L1073.7 498.0L1078.6 497.2L1083.4 496.3L1088.3 495.4L1093.2 494.5L1098.0 493.5L1102.9 492.6L1107.7 491.7L1112.6 490.7L1117.4 489.7L1122.3 488.8L1127.1 487.8L1132.0 486.7L1136.8 485.7L1141.6 484.7L1146.5 483.6L1151.3 482.6L1154.3 485.8L1155.8 485.3L1158.8 487.9L1159.3 492.0L1163.9 495.7L1167.0 495.2L1168.3 496.9L1173.5 498.8L1178.8 500.7L1182.6 501.8L1186.4 502.9L1186.1 507.1L1185.8 511.3L1188.1 514.6L1190.8 513.4L1193.9 512.2L1197.0 511.1L1200.1 509.9L1203.3 508.6L1206.4 506.8L1209.5 504.8L1212.6 502.9L1215.7 500.9L1218.9 498.6L1222.0 495.8L1225.1 493.1L1227.0 490.4L1225.1 491.3L1222.0 493.3L1218.9 494.8L1216.5 497.0L1215.0 496.6L1216.5 494.0L1218.1 490.8L1216.4 491.7L1214.8 494.8L1212.5 497.4L1209.3 498.3L1206.2 499.5L1203.1 500.7L1200.0 502.1L1196.8 502.6L1193.7 504.0L1191.0 505.4L1191.4 502.1L1189.2 499.3L1193.4 495.2L1191.4 493.3L1190.6 488.2L1189.7 483.0L1188.8 477.9L1187.9 472.7L1187.2 471.8L1187.3 465.6L1187.5 459.3L1187.6 453.1L1186.8 450.8L1185.5 444.6L1184.2 438.4L1183.0 432.2L1178.8 428.5L1179.4 426.1L1177.6 422.6L1175.9 419.1L1176.8 413.2L1176.1 408.0L1173.1 403.6L1173.0 398.3L1171.4 392.8L1167.7 393.9L1163.9 395.0L1160.1 396.0L1156.4 397.0L1152.1 397.8L1147.7 398.5L1143.4 399.3L1139.6 402.5L1135.9 405.7L1132.3 411.2L1128.7 416.7L1126.7 421.3L1123.4 424.4L1120.0 427.5L1119.8 431.0L1124.7 433.1L1123.8 437.7L1124.6 441.4L1125.3 445.1L1121.8 446.0L1119.6 449.0L1117.4 452.0L1115.1 453.5L1112.7 455.0L1108.5 455.7L1104.2 456.5L1101.7 458.2L1096.8 456.1L1092.6 456.2L1089.2 456.8L1085.8 457.4L1082.4 457.9L1078.8 459.7L1075.2 461.4L1071.5 463.2L1072.8 466.8L1074.1 470.4L1075.8 471.0L1078.2 475.3L1074.8 478.5L1073.5 482.6L1069.9 485.9L1066.3 489.2L1062.7 492.4Z"/>
<path class="s st-NJ" fill="#C0271D" d="M1168.3 496.9L1166.1 499.4L1165.7 502.6L1163.8 506.0L1161.9 509.3L1164.2 511.8L1162.2 517.2L1163.1 520.2L1165.8 520.6L1166.8 523.9L1170.3 526.0L1173.8 528.1L1173.3 530.7L1170.7 533.6L1168.1 536.5L1168.2 538.6L1165.7 540.4L1163.2 542.1L1162.1 545.7L1161.3 547.5L1161.5 548.0L1162.8 551.9L1167.1 554.1L1171.4 556.2L1174.7 556.7L1177.9 557.1L1180.8 561.1L1181.9 557.3L1183.0 553.5L1186.4 549.4L1188.3 543.3L1190.2 537.2L1189.9 532.2L1189.6 527.2L1189.3 522.2L1188.1 519.2L1185.1 518.8L1182.1 518.4L1182.9 513.9L1185.8 511.3L1186.1 507.1L1186.4 502.9L1182.6 501.8L1178.8 500.7L1173.5 498.8Z"/>
<path class="s st-DE" fill="#F5DB4C" d="M1163.2 542.1L1159.0 542.2L1156.1 545.9L1157.7 551.5L1159.2 557.2L1160.8 562.8L1162.3 568.4L1163.9 574.0L1165.4 579.6L1169.9 578.7L1174.4 577.8L1178.9 576.9L1177.4 572.4L1175.9 567.8L1173.8 568.0L1170.8 565.0L1167.9 562.0L1165.6 555.5L1161.7 552.2L1160.3 548.0L1162.1 545.7Z"/>
<path class="s st-MD" fill="#EB8C34" d="M1122.0 564.7L1124.7 566.5L1125.5 570.5L1130.0 571.0L1133.2 573.0L1135.6 576.5L1134.7 581.2L1132.4 586.0L1134.6 589.0L1138.0 585.8L1140.9 589.5L1144.5 589.9L1148.1 590.2L1153.8 593.5L1154.3 591.1L1151.9 588.2L1151.6 584.9L1147.9 581.1L1145.7 575.1L1147.0 571.0L1146.3 567.0L1145.7 563.0L1146.6 559.6L1149.0 557.3L1151.3 555.0L1150.8 552.3L1153.3 551.2L1153.8 556.5L1150.5 558.1L1149.3 563.6L1151.2 567.8L1153.0 571.9L1152.1 574.7L1153.4 581.1L1152.0 581.4L1154.5 585.9L1158.9 585.5L1159.6 583.3L1163.7 587.1L1161.7 589.5L1163.8 590.9L1164.7 595.4L1168.9 593.2L1171.6 591.8L1174.2 590.4L1177.3 589.2L1178.1 583.1L1178.9 576.9L1174.4 577.8L1169.9 578.7L1165.4 579.6L1163.9 574.0L1162.3 568.4L1160.8 562.8L1159.2 557.2L1157.7 551.5L1156.1 545.9L1151.1 547.0L1146.1 548.1L1141.1 549.1L1136.0 550.2L1131.0 551.2L1126.0 552.2L1120.9 553.2L1115.9 554.2L1110.8 555.2L1105.8 556.1L1100.7 557.1L1095.7 558.0L1090.6 558.9L1085.6 559.8L1080.5 560.7L1081.3 565.4L1082.0 570.1L1082.8 574.8L1086.4 571.5L1089.6 566.2L1092.5 566.6L1095.8 561.8L1099.1 562.2L1102.3 562.6L1102.5 559.5L1105.9 559.0L1107.4 556.6L1111.4 558.5L1114.9 557.8L1116.8 561.3L1118.7 564.9Z"/>
<path class="s st-CT" fill="#E85D26" d="M1187.9 472.7L1188.8 477.9L1189.7 483.0L1190.6 488.2L1191.4 493.3L1193.4 495.2L1189.2 499.3L1191.4 502.1L1193.8 499.8L1196.3 497.6L1200.8 495.3L1204.3 490.5L1207.8 489.8L1211.3 489.2L1214.8 488.5L1218.9 486.4L1222.9 484.2L1224.8 484.2L1225.3 481.4L1223.9 476.2L1222.6 470.9L1221.2 465.6L1221.1 465.2L1217.0 466.2L1212.9 467.1L1208.8 468.1L1204.7 469.1L1200.5 470.0L1196.4 471.0L1192.1 471.9Z"/>
<path class="s st-RI" fill="#C0271D" d="M1221.2 465.6L1222.6 470.9L1223.9 476.2L1225.3 481.4L1224.8 484.2L1228.3 482.6L1231.9 480.9L1231.1 475.2L1232.1 470.7L1234.6 470.5L1232.0 469.2L1229.3 463.2L1226.4 464.0L1223.8 464.8Z"/>
<path class="s st-MA" fill="#8B1A10" d="M1187.6 453.1L1187.5 459.3L1187.3 465.6L1187.2 471.8L1187.9 472.7L1192.1 471.9L1196.4 471.0L1200.5 470.0L1204.7 469.1L1208.8 468.1L1212.9 467.1L1217.0 466.2L1221.1 465.2L1221.2 465.6L1223.8 464.8L1226.4 464.0L1229.3 463.2L1232.0 469.2L1234.6 470.5L1235.3 471.3L1238.1 475.7L1241.5 473.5L1241.1 471.6L1244.1 470.0L1246.8 471.9L1248.0 470.3L1250.1 469.0L1253.2 467.9L1256.3 466.7L1259.5 465.1L1260.6 462.6L1259.9 458.7L1258.4 455.9L1255.0 454.3L1252.1 454.8L1251.5 456.2L1254.2 455.6L1256.6 456.4L1258.1 458.4L1257.6 461.1L1255.4 463.6L1252.3 465.6L1249.2 466.2L1247.2 464.1L1246.1 461.1L1243.8 460.9L1243.3 457.4L1239.6 453.9L1235.2 454.4L1234.2 450.3L1236.3 446.0L1236.1 442.0L1234.1 437.5L1232.1 437.6L1229.9 439.6L1227.6 441.6L1226.2 444.6L1221.6 445.7L1217.1 446.7L1212.5 447.6L1208.0 448.6L1203.5 449.6L1199.5 450.5L1195.5 451.3L1191.6 452.2Z"/>
<path class="s st-VT" fill="#F5DB4C" d="M1171.4 392.8L1173.0 398.3L1173.1 403.6L1176.1 408.0L1176.8 413.2L1175.9 419.1L1177.6 422.6L1179.4 426.1L1178.8 428.5L1183.0 432.2L1184.2 438.4L1185.5 444.6L1186.8 450.8L1187.6 453.1L1191.6 452.2L1195.5 451.3L1199.5 450.5L1203.5 449.6L1201.2 448.0L1200.5 444.0L1201.8 442.1L1200.6 438.3L1199.9 432.5L1199.2 426.7L1201.2 420.6L1201.4 414.2L1202.5 411.6L1200.7 405.0L1203.5 403.0L1206.4 400.9L1208.3 395.6L1205.4 391.7L1206.8 386.7L1205.9 384.1L1202.2 385.2L1198.4 386.2L1194.7 387.3L1190.9 388.3L1187.0 389.2L1183.1 390.1L1179.2 391.1L1175.3 392.0Z"/>
<path class="s st-ME" fill="#C0271D" d="M1211.7 374.3L1213.6 379.9L1215.4 385.6L1217.2 391.2L1219.0 396.9L1220.8 402.7L1222.6 408.5L1224.3 414.2L1226.1 420.0L1227.9 425.8L1231.8 428.0L1232.1 430.7L1235.0 432.0L1235.4 428.1L1235.9 424.2L1238.6 420.2L1238.1 417.6L1241.0 415.8L1239.0 413.2L1242.0 407.3L1243.6 410.0L1246.7 409.8L1248.3 406.3L1251.1 405.1L1252.2 401.2L1256.1 401.3L1258.7 397.1L1257.7 395.7L1258.7 389.1L1257.4 386.5L1260.0 384.8L1261.2 388.7L1263.6 388.0L1266.0 387.2L1267.6 384.9L1269.6 387.9L1273.3 384.6L1271.1 380.7L1273.1 380.4L1275.7 383.9L1277.6 380.2L1279.5 376.6L1283.0 375.8L1282.6 373.3L1285.4 373.2L1286.4 369.7L1289.1 370.6L1291.7 365.2L1288.5 361.1L1285.4 357.0L1282.2 358.9L1278.4 355.7L1278.9 352.7L1276.4 350.4L1276.3 347.1L1272.9 347.1L1269.5 347.1L1268.6 343.6L1267.7 340.0L1265.9 334.1L1264.0 328.3L1262.2 322.4L1260.4 316.6L1258.5 310.7L1254.6 308.2L1251.4 306.9L1248.3 305.6L1246.3 308.2L1242.7 309.3L1240.2 311.6L1237.7 313.9L1234.9 312.8L1233.3 308.0L1229.8 308.1L1227.8 314.1L1225.7 320.1L1223.7 326.1L1221.6 332.2L1222.1 336.0L1222.5 339.8L1220.4 342.9L1220.4 346.6L1220.5 350.3L1222.7 354.7L1220.4 358.0L1221.5 359.4L1218.9 362.1L1216.9 367.0L1218.8 368.5L1215.3 371.4Z"/>
<path class="s st-VAES" fill="#C0271D" d="M1177.3 589.2L1174.2 590.4L1171.6 591.8L1168.9 593.2L1167.7 597.7L1166.5 601.9L1165.7 606.1L1165.8 610.3L1166.5 614.5L1167.6 617.1L1168.7 614.5L1169.9 610.3L1171.3 606.1L1172.8 601.9L1174.2 597.7L1175.4 593.6Z"/>
<path class="s st-RI2" fill="#C0271D" d="M1238.1 475.7L1235.3 471.3L1234.4 477.3Z"/>
<path class="s st-NH" fill="#8B1A10" d="M1232.1 437.6L1234.1 437.5L1235.0 432.0L1232.1 430.7L1231.8 428.0L1227.9 425.8L1226.1 420.0L1224.3 414.2L1222.6 408.5L1220.8 402.7L1219.0 396.9L1217.2 391.2L1215.4 385.6L1213.6 379.9L1211.7 374.3L1211.2 376.2L1206.8 376.6L1206.3 380.3L1205.9 384.1L1206.8 386.7L1205.4 391.7L1208.3 395.6L1206.4 400.9L1203.5 403.0L1200.7 405.0L1202.5 411.6L1201.4 414.2L1201.2 420.6L1199.2 426.7L1199.9 432.5L1200.6 438.3L1201.8 442.1L1200.5 444.0L1201.2 448.0L1203.5 449.6L1208.0 448.6L1212.5 447.6L1217.1 446.7L1221.6 445.7L1226.2 444.6L1227.6 441.6L1229.9 439.6Z"/>
<path class="s" fill="#F2B03D" d="M703.2 933.2L704.3 933.7L705.6 940.0L707.0 947.3L708.0 954.6L708.8 960.9L708.9 966.1L708.5 969.1L707.6 968.0L707.8 964.0L707.4 958.8L706.7 953.6L705.7 947.3L704.6 941.0L703.6 936.8Z"/>
<path class="s" fill="#8B1A10" d="M870.3 358.9L865.9 362.6L863.5 363.3L863.5 360.4L874.6 353.2L872.7 357.8Z"/>
<path class="s ak" fill="#EB8C34" d="M206.5 898.7L207.8 894.2L211.9 890.7L213.2 886.7L215.9 884.0L220.3 883.5L223.0 884.0L223.7 880.9L225.2 882.6L229.3 883.5L231.9 881.3L231.5 876.4L230.6 872.8L229.3 872.8L225.7 874.6L223.5 875.1L223.0 873.3L219.4 872.8L214.1 873.7L210.1 871.5L209.2 867.5L206.1 864.3L204.3 860.8L207.8 859.9L211.0 857.2L215.9 855.0L220.3 854.1L223.7 853.6L223.7 858.5L228.4 859.0L231.2 857.7L231.2 854.1L230.2 851.4L227.5 849.2L224.4 847.8L222.1 845.2L220.8 840.2L218.6 838.9L215.9 838.9L216.8 834.4L215.7 830.9L219.4 831.3L223.0 831.8L226.6 830.9L228.4 828.2L229.3 824.6L231.5 821.5L235.5 820.6L238.6 821.1L240.0 818.4L243.5 816.6L247.6 815.3L249.3 812.6L250.7 812.0L252.0 815.3L253.8 815.7L254.7 813.9L256.0 816.2L260.5 814.8L263.6 814.4L265.9 816.6L265.9 819.7L268.5 821.1L272.5 818.8L275.7 819.3L278.3 821.1L281.9 821.5L285.9 821.1L289.1 821.5L291.7 819.7L295.3 819.3L298.4 820.6L301.5 822.0L303.5 822.8L321.0 906.0L322.1 908.4L323.9 909.5L326.5 907.8L328.1 905.7L329.7 906.4L330.5 908.6L332.8 910.9L335.5 912.2L338.1 914.4L341.7 916.2L340.7 915.9L342.4 915.1L343.2 912.3L344.1 909.5L345.7 907.3L347.4 906.5L349.6 907.3L351.3 909.0L352.1 910.9L354.7 912.3L358.0 914.0L360.8 916.2L363.6 919.0L366.4 922.3L369.7 925.7L373.1 928.5L376.4 930.2L380.3 930.7L383.7 932.1L385.9 934.1L387.6 936.8L387.8 940.2L387.0 943.0L385.3 943.5L385.6 940.2L384.8 937.4L382.5 935.2L378.1 933.2L372.5 930.4L366.9 926.0L362.5 921.5L359.1 918.2L355.8 914.8L352.4 913.7L350.2 916.2L348.5 917.9L345.7 918.6L343.5 917.9L341.3 918.4L339.0 919.0L336.3 917.3L333.5 915.7L330.7 914.0L327.9 912.9L325.1 913.4L322.3 914.0L319.5 913.7L316.7 913.4L313.9 913.1L311.2 913.4L308.4 914.5L307.3 915.9L304.5 915.7L303.1 914.5L303.3 912.9L300.0 912.3L299.3 911.8L297.5 909.5L296.2 906.4L294.0 904.8L291.3 906.4L288.6 910.0L285.9 914.4L282.8 917.6L280.1 920.2L279.7 924.3L270.8 924.4L271.0 920.7L271.7 916.2L271.4 913.6L272.5 910.9L274.3 908.4L273.0 907.8L270.3 910.9L267.6 913.6L265.0 917.1L262.7 920.7L262.5 924.3L264.5 927.8L264.1 931.4L262.3 934.1L260.5 936.3L258.7 938.5L256.0 940.3L254.3 943.0L252.5 945.7L250.7 947.5L248.9 949.3L247.1 951.0L243.5 952.8L240.0 954.6L236.4 955.9L231.9 957.3L227.5 958.6L223.9 959.5L221.2 960.9L216.8 962.6L212.3 964.4L207.8 965.8L204.3 965.8L202.5 964.4L203.4 962.6L207.0 960.0L211.4 958.6L215.9 957.3L219.4 954.6L221.2 952.8L224.8 953.7L227.5 952.8L228.4 950.1L231.9 948.8L235.5 947.5L237.3 944.8L240.0 942.1L241.8 938.5L243.5 935.0L244.0 931.4L244.4 928.3L242.2 927.4L239.5 927.8L239.1 931.4L236.4 931.0L235.5 928.7L233.7 926.5L231.9 925.2L230.2 926.9L227.5 928.7L223.9 929.2L221.2 929.6L222.1 926.0L223.0 920.7L223.5 915.3L220.3 914.9L216.8 915.8L214.1 915.3L212.3 911.8L211.4 908.2L211.0 904.6L209.2 902.8L207.4 900.2Z"/>
<path class="s ak" fill="#EB8C34" d="M257.8 942.1L260.5 939.4L263.2 936.8L265.9 933.2L267.6 930.5L269.9 930.1L273.0 932.3L273.4 934.1L270.8 935.4L272.5 938.1L272.1 939.9L269.4 942.1L266.7 944.3L264.1 945.7L263.2 947.5L260.5 947.5L258.3 944.8Z"/>
<path class="s ak" fill="#EB8C34" d="M256.0 951.5L258.7 949.3L261.4 948.4L263.6 950.1L260.5 951.9L257.4 952.8Z"/>
<path class="s ak" fill="#EB8C34" d="M252.0 955.7L253.5 955.3L254.3 956.8L252.9 957.7L251.8 956.8Z"/>
<path class="s ak" fill="#EB8C34" d="M224.4 960.4L228.4 959.1L231.5 960.0L233.3 961.7L231.9 963.5L228.4 964.0L225.7 962.6Z"/>
<path class="s ak" fill="#EB8C34" d="M212.8 965.8L215.4 965.3L215.9 966.9L213.4 967.3Z"/>
<path class="s ak" fill="#EB8C34" d="M287.3 918.0L289.1 915.8L292.2 914.9L293.1 916.2L290.8 918.5L288.2 919.4Z"/>
<path class="s ak" fill="#EB8C34" d="M265.2 919.6L267.5 919.8L267.8 921.6L265.9 922.3L264.8 920.9Z"/>
<path class="s ak" fill="#EB8C34" d="M343.2 920.1L344.6 919.1L347.4 919.3L350.2 920.4L352.4 922.3L354.7 925.7L356.9 929.0L358.6 932.4L359.7 935.2L360.5 938.0L361.3 941.3L362.5 942.1L360.8 942.4L359.1 939.1L357.4 934.6L355.2 930.7L353.0 926.8L350.8 923.5L348.0 921.8L344.6 922.1L343.2 921.2Z"/>
<path class="s ak" fill="#EB8C34" d="M361.3 930.2L364.1 931.3L366.9 932.4L369.2 934.6L369.7 937.4L368.6 940.2L366.4 942.4L364.1 941.9L362.5 940.2L361.1 937.4L360.2 933.5Z"/>
<path class="s ak" fill="#EB8C34" d="M371.9 940.2L374.7 939.1L377.5 940.8L378.6 944.1L377.0 946.9L374.2 946.3L371.9 944.1L371.1 941.9Z"/>
<path class="s ak" fill="#EB8C34" d="M378.1 936.8L380.9 936.3L382.5 938.5L384.2 941.9L384.8 945.2L382.5 944.7L380.3 942.4L378.6 939.6Z"/>
<path class="s ak" fill="#EB8C34" d="M184.6 872.0L186.7 871.0L188.8 873.1L192.0 873.1L194.6 874.6L195.1 877.8L197.2 879.3L199.8 880.4L197.7 881.4L196.7 883.5L194.1 884.6L192.0 881.4L190.4 878.3L187.8 877.8L185.4 875.7Z"/>
<path class="s ak" fill="#EB8C34" d="M171.4 899.5L174.7 901.3L178.9 903.9L175.8 904.4L172.6 901.8Z"/>
<path class="s ak" fill="#EB8C34" d="M197.2 909.2L202.9 907.6L205.6 909.2L207.6 913.3L206.1 915.9L202.9 916.5L200.3 913.3Z"/>
<path class="s ak" fill="#EB8C34" d="M178.1 934.2L181.2 934.5L180.8 936.1L178.4 936.1Z"/>
<path class="s ak" fill="#EB8C34" d="M179.7 939.7L181.8 939.7L182.0 941.6L179.9 941.8Z"/>
<path class="s ak" fill="#EB8C34" d="M175.8 975.0L178.9 971.9L183.1 969.3L187.3 967.7L190.4 965.6L194.6 964.6L198.8 965.1L202.4 968.2L198.8 968.8L194.6 970.3L193.0 972.4L188.3 971.9L184.1 972.9L181.0 975.6L177.8 976.1Z"/>
<path class="s ak" fill="#EB8C34" d="M165.3 974.5L169.5 972.9L173.1 972.7L174.2 975.0L170.5 976.1L166.9 976.6Z"/>
<path class="s ak" fill="#EB8C34" d="M140.2 972.9L144.4 971.9L147.0 969.8L148.6 972.4L152.7 974.0L156.9 973.5L159.0 974.0L159.5 976.1L154.8 976.1L151.7 978.2L149.1 977.1L145.4 975.0L142.3 974.5Z"/>
<path class="s ak" fill="#EB8C34" d="M122.4 966.7L124.5 967.2L127.1 969.8L131.8 971.4L135.0 969.8L137.6 970.3L137.6 973.5L135.0 975.0L130.8 975.0L126.6 973.5L123.5 970.8Z"/>
<path class="s ak" fill="#EB8C34" d="M105.2 960.4L107.3 959.9L108.3 963.0L109.9 965.6L109.3 968.2L107.3 968.8L105.7 965.6Z"/>
<path class="s ak" fill="#EB8C34" d="M110.4 963.5L112.5 963.0L114.6 961.4L114.9 963.5L112.5 965.1Z"/>
<path class="s ak" fill="#EB8C34" d="M98.4 958.3L101.5 956.7L103.1 957.8L101.0 960.4L98.9 960.4Z"/>
<path class="s ak" fill="#EB8C34" d="M211.8 966.1L216.0 965.4L216.5 967.2L213.4 967.7Z"/>
<path class="s hi" fill="#A6F04D" d="M454.3 902.7L457.0 899.9L459.8 898.1L462.1 899.5L463.0 902.2L464.4 905.4L466.2 906.8L468.5 909.6L467.6 911.0L465.3 910.5L463.5 908.7L460.3 909.1L457.5 909.6L456.1 906.8L455.7 904.5Z"/>
<path class="s hi" fill="#A6F04D" d="M477.3 910.0L479.1 910.5L479.6 911.9L483.3 911.0L485.1 910.5L487.9 911.9L490.6 912.8L491.1 914.6L488.8 916.0L485.1 916.0L481.4 915.1L478.7 915.1L476.8 916.5L475.7 915.6L476.8 913.3Z"/>
<path class="s hi" fill="#A6F04D" d="M484.2 920.2L486.0 919.0L488.8 919.7L491.1 922.0L491.1 924.8L489.3 926.3L487.4 925.7L487.0 922.9L485.1 922.0Z"/>
<path class="s hi" fill="#A6F04D" d="M493.4 917.9L495.2 917.0L497.5 918.8L499.8 919.3L503.1 917.9L506.3 919.7L509.5 922.0L511.8 924.3L511.3 926.2L508.1 927.1L504.4 927.8L501.2 928.9L499.7 927.5L499.4 924.3L498.5 921.6L495.2 921.1L493.9 919.7Z"/>
<path class="s hi" fill="#A6F04D" d="M512.7 937.7L515.0 936.3L517.8 937.7L521.0 940.4L525.6 941.8L530.7 942.7L533.9 944.6L536.2 948.3L536.7 951.5L539.4 951.9L540.8 954.7L542.9 957.0L541.3 960.7L537.6 962.1L533.0 963.4L528.4 964.8L524.7 967.6L521.9 971.3L519.6 973.6L516.9 971.7L514.1 970.3L513.6 966.7L514.6 962.1L512.7 957.5L511.8 953.8L510.4 951.5L510.9 949.2L513.6 946.4L514.6 942.7L512.7 940.0Z"/>
<path class="s pr" fill="#A6F04D" d="M747.1 1009.7L749.2 1008.8L751.7 1007.6L754.2 1005.1L755.1 1000.9L756.7 997.5L758.8 995.9L763.4 996.5L767.6 997.5L771.8 998.0L776.8 997.5L781.0 997.7L785.2 998.2L790.2 998.0L795.2 997.5L800.2 998.0L806.1 997.7L811.1 997.5L816.1 998.0L821.2 998.2L825.3 999.2L828.7 998.8L830.8 1000.1L834.5 1000.5L838.7 999.2L842.9 999.4L847.9 1000.5L852.1 1001.7L856.3 1003.0L860.5 1003.6L863.8 1003.0L864.7 1004.7L863.0 1006.8L863.4 1010.1L864.7 1013.4L866.7 1016.0L865.5 1018.5L863.0 1019.3L860.5 1022.6L858.0 1026.0L855.5 1029.3L852.1 1032.7L848.8 1035.2L844.6 1037.3L840.4 1038.5L836.2 1039.4L832.0 1040.6L827.8 1041.9L823.7 1042.7L820.3 1041.9L817.0 1041.1L813.6 1040.6L811.1 1042.7L808.6 1042.7L806.1 1040.6L801.9 1040.2L797.7 1040.2L793.5 1039.8L789.4 1039.4L785.2 1038.5L781.8 1039.4L778.5 1040.2L775.1 1041.1L772.2 1041.9L771.0 1044.4L768.4 1044.4L766.8 1042.7L764.3 1043.1L760.9 1042.7L757.6 1042.7L755.1 1043.6L752.5 1044.8L750.9 1042.7L751.7 1038.5L751.3 1035.2L752.5 1031.9L753.0 1027.7L753.8 1023.5L753.4 1020.1L751.7 1016.8L749.6 1013.4L747.9 1011.8Z"/>
<path class="s pr" fill="#A6F04D" d="M861.3 1026.4L864.7 1024.7L868.8 1023.1L873.0 1022.2L877.2 1021.8L882.2 1021.8L885.6 1023.1L883.1 1024.7L878.9 1026.0L873.9 1026.8L870.5 1028.1L866.3 1028.5L863.0 1028.5Z"/>
<path class="s pr" fill="#A6F04D" d="M876.4 1002.2L879.7 1003.8L883.9 1004.7L884.7 1006.3L883.1 1008.4L880.6 1007.2L878.5 1005.1Z"/>
<path class="s vi" fill="#FFFFFF" d="M953.5 984.0L954.4 980.9L957.5 979.5L961.0 979.1L963.7 976.4L966.8 974.2L971.3 973.7L974.4 973.3L975.8 970.6L978.9 969.7L981.6 970.2L983.4 972.4L986.0 972.0L986.5 969.3L985.6 966.2L989.6 967.0L994.1 968.8L999.4 971.1L1004.8 972.0L1009.2 973.3L1013.7 975.5L1018.2 976.9L1021.7 976.4L1024.0 975.3L1024.4 977.3L1021.7 979.1L1018.2 979.5L1013.7 980.4L1009.2 981.3L1008.3 983.6L1008.8 987.1L1005.7 987.1L1002.1 985.8L997.6 986.2L993.2 986.7L992.3 983.6L991.4 980.4L988.7 980.0L986.0 980.9L985.1 983.6L986.5 987.1L988.3 989.4L987.4 992.0L984.3 993.4L980.7 994.7L978.0 994.7L979.8 990.7L980.7 986.7L978.0 984.4L974.4 982.7L971.3 981.8L968.6 983.1L966.0 985.8L961.9 986.2L957.5 985.8L954.4 985.8Z"/>
<path class="s vi" fill="#FFFFFF" d="M1022.6 989.4L1024.9 985.8L1026.6 982.7L1029.3 980.0L1031.5 976.9L1036.0 976.4L1036.9 972.8L1036.0 969.7L1039.6 968.8L1044.9 967.9L1048.5 966.6L1052.1 966.6L1054.7 969.3L1057.0 971.5L1057.9 967.5L1057.4 963.5L1061.9 962.9L1067.2 963.5L1071.3 964.4L1070.8 968.4L1066.4 967.9L1061.9 967.5L1061.0 971.1L1062.8 973.7L1066.4 975.5L1068.1 979.1L1067.2 983.1L1063.7 981.3L1060.1 980.4L1057.0 982.2L1053.9 980.0L1051.2 979.1L1048.9 981.8L1044.9 984.4L1041.4 987.1L1037.8 988.9L1035.1 991.6L1032.4 994.7L1028.9 992.9L1025.3 991.6Z"/>
<path class="s vi" fill="#FFFFFF" d="M929.4 1046.5L928.9 1040.7L931.2 1035.3L933.8 1031.3L930.7 1030.0L930.3 1024.6L930.3 1019.3L935.2 1017.9L941.4 1017.0L946.8 1016.6L949.4 1013.9L953.0 1010.3L958.4 1007.2L963.7 1005.0L969.1 1003.2L970.4 1006.8L974.0 1006.8L974.9 1003.2L975.3 999.2L978.9 1001.0L983.4 1003.2L986.0 1006.3L988.3 1008.1L992.3 1007.7L995.9 1005.9L1000.3 1003.2L1005.7 1002.3L1011.0 1001.8L1016.4 1002.7L1022.6 1003.2L1028.9 1002.3L1034.2 1000.5L1037.8 999.6L1036.0 1003.6L1032.4 1006.8L1028.0 1009.9L1024.4 1012.1L1018.2 1012.1L1012.8 1012.1L1011.9 1014.8L1012.8 1017.9L1009.2 1018.4L1004.8 1017.9L999.4 1019.7L995.0 1021.9L991.4 1024.2L986.9 1023.7L982.5 1023.7L980.7 1027.3L975.3 1026.4L971.3 1028.6L974.0 1030.9L977.6 1032.6L976.2 1037.5L972.7 1036.2L968.2 1034.0L963.7 1032.2L958.4 1032.2L957.0 1037.1L953.0 1039.8L948.6 1042.0L945.0 1038.9L941.4 1040.2L937.8 1043.8L933.4 1045.6Z"/>
<path class="s nyc" fill="#F5DB4C" d="M1284.3 489.2L1286.8 488.4L1291.0 487.5L1294.3 488.8L1297.7 489.2L1300.2 490.9L1300.2 494.2L1298.5 495.9L1296.0 493.8L1296.8 497.6L1299.4 500.9L1301.0 503.4L1298.5 505.1L1296.0 505.9L1294.3 507.6L1291.8 508.5L1290.1 506.8L1288.5 505.1L1287.2 501.8L1286.4 497.6L1285.1 493.4Z"/>
<path class="s nyc" fill="#F5DB4C" d="M1284.3 492.6L1286.0 496.7L1287.2 502.6L1288.5 506.8L1289.3 510.1L1288.5 515.1L1287.6 520.2L1287.2 525.2L1286.4 528.5L1284.3 529.4L1282.6 527.7L1282.2 521.8L1283.0 516.0L1283.9 509.3L1284.3 500.9Z"/>
<path class="s nyc" fill="#F5DB4C" d="M1290.1 510.1L1291.8 508.9L1294.3 511.8L1298.5 513.5L1299.8 511.8L1298.9 508.9L1301.9 505.9L1305.2 505.1L1306.9 507.6L1310.2 506.8L1313.6 508.9L1315.7 512.6L1314.8 516.8L1316.5 521.8L1318.2 526.9L1318.6 529.4L1316.9 531.0L1313.6 529.4L1309.4 529.4L1305.2 531.0L1303.1 534.4L1302.7 539.4L1304.4 543.6L1305.2 546.1L1301.9 547.8L1298.5 550.3L1295.2 552.0L1292.7 552.4L1290.1 551.1L1291.8 548.6L1288.5 546.1L1286.0 543.6L1285.1 540.3L1287.2 536.9L1288.1 533.6L1286.8 530.2L1288.5 526.9L1289.3 521.8L1289.7 516.0Z"/>
<path class="s nyc" fill="#F5DB4C" d="M1267.6 544.4L1271.7 543.6L1276.8 541.9L1280.5 540.7L1282.6 544.4L1284.3 547.8L1283.5 552.8L1281.8 557.8L1278.4 560.3L1275.9 563.7L1273.4 567.9L1270.9 571.2L1268.8 572.5L1267.6 570.4L1268.4 567.0L1266.3 564.5L1268.0 560.3L1269.2 555.3L1268.8 550.3L1267.6 546.9Z"/>
<path class="s" fill="#E85D26" d="M1278.1 632.2L1290.2 637.6L1303.7 643.6L1316.5 648.1L1315.8 657.2L1314.7 667.7L1313.5 676.8L1312.4 685.0L1311.3 692.6L1309.8 690.3L1308.6 687.3L1307.5 684.3L1305.3 682.0L1303.4 679.8L1302.2 675.3L1301.1 670.7L1297.7 668.5L1294.0 667.0L1290.2 666.2L1287.9 664.0L1285.7 660.9L1284.2 657.9L1281.9 656.4L1278.1 656.3L1273.6 656.3L1274.7 651.2L1276.3 643.6L1277.4 636.8Z"/>
<path class="s" fill="#E85D26" d="M255.4 281.5L256.6 282.5L256.3 285.1L257.6 287.4L258.0 290.4L258.4 294.2L257.3 297.2L255.7 300.2L253.9 302.1L252.7 301.0L253.9 297.9L254.6 294.2L253.6 290.4L253.1 286.6L253.6 283.6Z"/>
<path class="s" fill="#E85D26" d="M246.3 275.9L248.2 276.8L251.2 279.9L250.1 282.1L248.2 280.2L246.7 278.0Z"/>
<path class="s" fill="#8B1A10" d="M1244.9 478.3L1246.8 475.1L1248.8 473.6L1251.5 474.7L1250.7 477.1L1248.0 478.3L1246.0 479.0Z"/>
<path class="s" fill="#8B1A10" d="M1257.4 476.3L1259.3 474.4L1261.3 472.8L1262.4 474.7L1261.7 477.1L1259.3 477.5Z"/>
<path class="s" fill="#EB8C34" d="M1100.0 860.8L1103.1 862.3L1106.8 866.8L1108.6 871.4L1106.1 871.4L1103.1 867.6L1100.8 864.6Z"/>
<path class="s" fill="#C0271D" d="M1182.6 518.0L1182.7 514.2L1185.0 513.1L1185.9 514.4L1184.4 517.0Z"/>
<path class="s" fill="#F2B03D" d="M197.7 679.0L204.0 678.5L211.5 681.5L210.3 684.0L202.7 683.0L198.2 681.5Z"/>
<path class="s" fill="#F2B03D" d="M229.3 701.6L232.3 703.6L235.4 708.1L233.4 709.1L230.3 705.6Z"/>
<path class="s" fill="#F2B03D" d="M226.6 713.7L228.3 714.9L230.3 721.7L228.3 722.2L226.8 717.4Z"/>
<path class="s" fill="#fff" d="M236.9 314.9L238.4 313.2L241.4 313.5L245.2 313.0L247.5 313.9L246.9 316.6L243.7 318.1L240.7 318.7L237.8 317.5Z"/>
<path class="s" fill="#fff" d="M244.6 301.9L246.7 299.6L248.2 300.3L246.9 302.5L245.3 303.2Z"/>
<path class="s" fill="#fff" d="M869.9 850.2L870.9 847.2L873.9 845.0L877.9 844.7L880.9 846.4L882.9 848.7L881.4 850.7L878.9 851.7L875.4 852.7L871.9 852.2Z"/>
<path class="s" fill="#fff" d="M180.1 565.0L182.6 566.3L184.4 575.1L182.4 575.8L179.6 570.6Z"/>
<polyline class="soft" points="1211.7,374.3 1213.6,379.9 1215.4,385.6 1217.2,391.2 1219.0,396.9 1220.8,402.7 1222.6,408.5 1224.3,414.2 1226.1,420.0 1227.9,425.8 1231.8,428.0"/>
<polyline class="soft" points="1232.1,437.6 1229.9,439.6 1227.6,441.6 1226.2,444.6 1221.6,445.7 1217.1,446.7 1212.5,447.6 1208.0,448.6 1203.5,449.6"/>
<polyline class="soft" points="1023.3,701.8 1027.0,700.3 1030.6,698.9 1035.0,695.7 1037.9,694.8 1040.8,693.8 1046.3,693.3 1051.7,692.7 1057.2,692.2 1062.6,691.6 1068.1,691.0 1068.7,693.9 1070.7,691.8 1074.8,695.9 1074.9,699.1 1079.9,698.4 1084.9,697.7 1089.8,697.0 1094.8,696.2 1099.7,695.4 1105.6,699.8 1111.5,704.1 1117.5,708.3 1123.4,712.6 1129.4,716.8"/>
<polyline class="soft" points="1023.3,701.8 1019.4,708.3 1019.4,711.2 1023.5,713.6 1027.6,716.0 1029.8,715.2 1034.1,720.7 1035.2,723.8 1039.6,729.0 1045.2,731.7 1048.9,736.3 1052.3,738.2 1055.6,740.1 1055.8,743.2 1060.5,747.7 1063.9,749.4 1067.2,751.0 1069.4,755.2 1070.5,761.0 1073.9,762.5 1076.3,765.8 1078.7,769.2 1079.6,773.8 1085.2,775.3"/>
<polyline class="dl" points="1172.5,632.5 1174.8,636.5 1177.8,641.2 1180.8,645.3 1184.1,649.3 1187.6,654.9 1188.4,660.2 1187.9,664.7 1183.7,667.7 1179.9,670.7 1178.0,673.0"/>
<polyline class="dl" points="1172.8,677.7 1172.1,681.3 1170.4,685.0 1169.4,687.7"/>
<polyline class="dl" points="1130.2,952.0 1128.7,956.5 1126.4,960.2 1123.7,964.5"/>
<polyline class="dl" points="181.6,557.5 190.2,560.0 199.0,562.5"/>
<polyline class="dl" points="774.7,871.7 770.2,873.0 766.0,875.8"/>
<polyline class="dl" points="763.9,877.6 759.7,882.6 757.1,883.9 756.1,887.0 752.6,890.0 748.2,892.1 744.0,894.2 740.1,896.2 737.2,897.8 735.1,900.4"/>
<polyline class="dl" points="729.4,903.0 726.8,905.7 724.7,907.5 722.6,910.1 720.8,912.1 718.1,914.2 716.0,916.3 713.9,918.4 711.8,920.5 710.6,922.9"/>
<polyline class="dl" points="707.6,923.4 706.4,926.6 705.3,929.2 704.3,931.8"/>
</g>
<text class="title" x="877.5" y="204.8" text-anchor="middle">2025-26 Influenza Season Week 2 ending Jan 17, 2026</text>
<text class="lab" x="1247.5" y="598.5">N.Y.C.</text>
<text class="lab" x="1258.3" y="695.7">D.C.</text>
<text class="lab" x="789.3" y="976.6">P.R.</text>
<text class="lab" x="1055.9" y="1024.7">V.I.</text>
<g id="legend">
<text class="lt" x="1411.8" y="297.8">ILI Activity Level</text>
<rect class="sw" x="1414" y="325.6" width="33.2" height="33.2" rx="6.5" ry="6.5" fill="#4B0D7D"/>
<rect class="sw" x="1414" y="377.0" width="33.2" height="33.2" rx="6.5" ry="6.5" fill="#6B120C"/>
<rect class="sw" x="1414" y="428.4" width="33.2" height="33.2" rx="6.5" ry="6.5" fill="#8B1A10"/>
<rect class="sw" x="1414" y="479.8" width="33.2" height="33.2" rx="6.5" ry="6.5" fill="#C0271D"/>
<rect class="sw" x="1414" y="531.2" width="33.2" height="33.2" rx="6.5" ry="6.5" fill="#E85D26"/>
<rect class="sw" x="1414" y="582.6" width="33.2" height="33.2" rx="6.5" ry="6.5" fill="#EB8C34"/>
<rect class="sw" x="1414" y="634.0" width="33.2" height="33.2" rx="6.5" ry="6.5" fill="#F2B03D"/>
<rect class="sw" x="1414" y="685.4" width="33.2" height="33.2" rx="6.5" ry="6.5" fill="#F5DB4C"/>
<rect class="sw" x="1414" y="736.8" width="33.2" height="33.2" rx="6.5" ry="6.5" fill="#E6F250"/>
<rect class="sw" x="1414" y="788.2" width="33.2" height="33.2" rx="6.5" ry="6.5" fill="#CBF24F"/>
<rect class="sw" x="1414" y="839.6" width="33.2" height="33.2" rx="6.5" ry="6.5" fill="#A6F04D"/>
<rect class="sw" x="1414" y="891.0" width="33.2" height="33.2" rx="6.5" ry="6.5" fill="#86F04A"/>
<rect class="sw" x="1414" y="942.4" width="33.2" height="33.2" rx="6.5" ry="6.5" fill="#54B83A"/>
<rect class="sw" x="1414" y="993.8" width="33.2" height="33.2" rx="6.5" ry="6.5" fill="#FFFFFF"/>
<path class="br" d="M1456 342.2H1490V445.0H1456"/>
<text class="ll" x="1498" y="403.0">Very High</text>
<path class="br" d="M1456 496.4H1490V599.2H1456"/>
<text class="ll" x="1498" y="557.2">High</text>
<path class="br" d="M1456 650.6H1490V702.0H1456"/>
<text class="ll" x="1498" y="685.7">Moderate</text>
<path class="br" d="M1456 753.4H1490V804.8H1456"/>
<text class="ll" x="1498" y="788.5">Low</text>
<path class="br" d="M1456 856.2H1490V959.0H1456"/>
<text class="ll" x="1498" y="917.0">Minimal</text>
<path class="br" d="M1456 1010.4H1490"/>
<text class="ll" x="1498" y="1019.8">Insufficient Data</text>
</g>
</svg>
</body></html>
